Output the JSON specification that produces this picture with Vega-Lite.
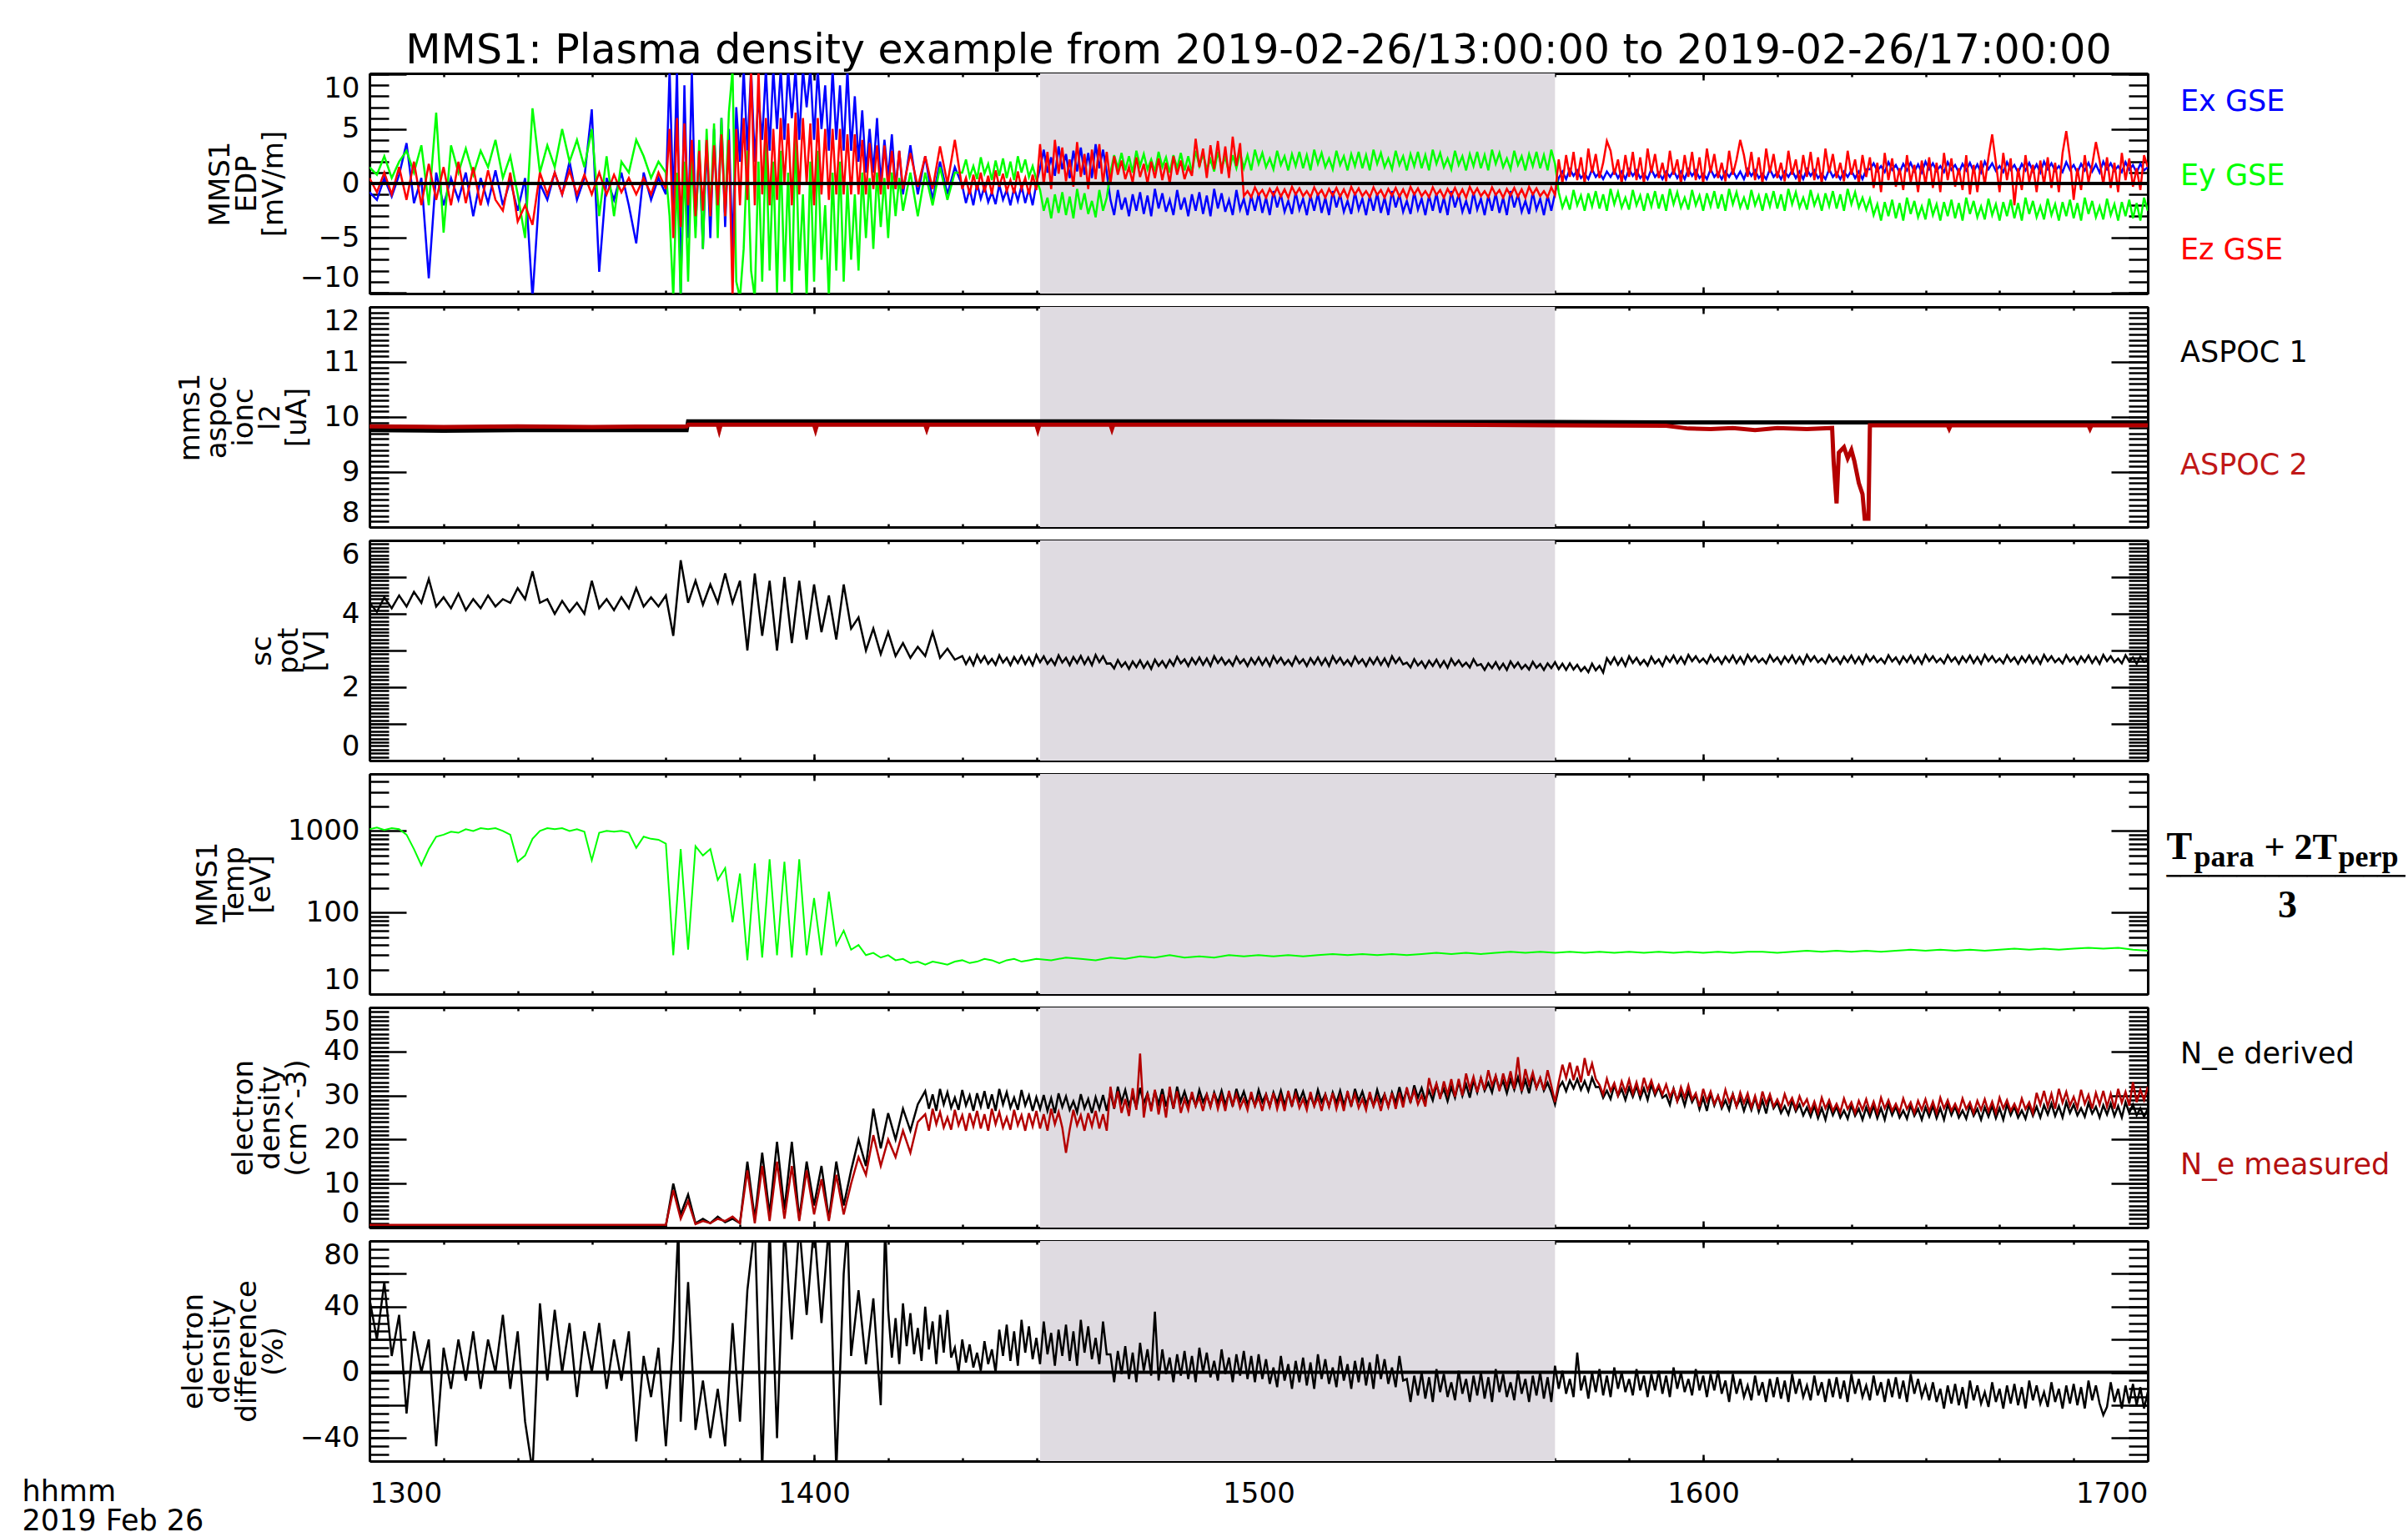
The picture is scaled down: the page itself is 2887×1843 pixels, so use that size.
{
"$schema": "https://vega.github.io/schema/vega-lite/v6.json",
"background": "white",
"padding": {"left": 26, "top": 36, "right": 0, "bottom": 6},
"title": {"text": "MMS1: Plasma density example from 2019-02-26/13:00:00 to 2019-02-26/17:00:00", "font": "DejaVu Sans", "fontSize": 49, "fontWeight": "normal", "color": "black", "anchor": "middle", "frame": "group", "baseline": "alphabetic", "offset": -38},
"spacing": 16,
"bounds": "flush",
"config": {
 "view": {"stroke": null},
 "axis": {"labelFont": "DejaVu Sans", "labelFontSize": 34, "labelColor": "black", "tickColor": "black", "tickWidth": 2.5, "domainColor": "black", "domainWidth": 3, "grid": false, "titleFont": "DejaVu Sans", "titleFontWeight": "normal", "titleColor": "black", "zindex": 1}
},
"datasets": {
 "shade": [{"t0": 90.5, "t1": 160}],
 "zero": [{"v": 0}],
 "e": [
{"t":0,"x":-0.8,"y":1.5,"z":0.5},{"t":1,"x":-1.5,"y":0.8,"z":-0.8},{"t":2,"x":0.5,"y":2.5,"z":1},{"t":3,"x":-1.2,"y":0.5,"z":-1},{"t":4,"x":0.8,"y":2,"z":1.5},{"t":5,"x":3.7,"y":3,"z":-1.5},{"t":6,"x":-1.8,"y":1,"z":2},{"t":7,"x":0.5,"y":3.5,"z":-2},{"t":8,"x":-8.7,"y":-2,"z":1.8},{"t":9,"x":1,"y":6.5,"z":-1.5},{"t":10,"x":-2,"y":-4.5,"z":1.5},{"t":11,"x":0.5,"y":3.5,"z":-2},{"t":12,"x":-1.5,"y":1,"z":2},{"t":13,"x":1,"y":3.2,"z":-1.8},{"t":14,"x":-3,"y":0.8,"z":1.5},{"t":15,"x":0.5,"y":3,"z":-2},{"t":16,"x":-1.8,"y":1.5,"z":1.2},{"t":17,"x":1.2,"y":4,"z":-1.5},{"t":18,"x":-2,"y":0.5,"z":-2.5},{"t":19,"x":0.3,"y":2.5,"z":1},{"t":20,"x":-2.5,"y":-1,"z":-3.5},{"t":21,"x":0.5,"y":-5,"z":-2},{"t":22,"x":-10.5,"y":6.9,"z":-3.8},{"t":23,"x":0,"y":1,"z":1},{"t":24,"x":-1.5,"y":3.5,"z":-1},{"t":25,"x":1,"y":1.5,"z":1},{"t":26,"x":-1,"y":5,"z":-1},{"t":27,"x":2,"y":2,"z":1.2},{"t":28,"x":-1.5,"y":4,"z":-1},{"t":29,"x":0.5,"y":1.5,"z":0.8},{"t":30,"x":6.8,"y":5,"z":-1},{"t":31,"x":-8.1,"y":-3,"z":1},{"t":32,"x":0.5,"y":2.5,"z":-1},{"t":33,"x":-1.5,"y":-3,"z":0.8},{"t":34,"x":1,"y":2,"z":-0.8},{"t":35,"x":-2,"y":1,"z":0.5},{"t":36,"x":-5.5,"y":4,"z":-1},{"t":37,"x":1,"y":2.5,"z":0.5},{"t":38,"x":-1.5,"y":0.5,"z":-1},{"t":39,"x":0.5,"y":2,"z":1},{"t":40,"x":-1,"y":1,"z":-0.5},
{"t":40.5,"x":10.5,"y":-3,"z":5},{"t":41,"x":-2,"y":-10.5,"z":-5},{"t":41.5,"x":10.5,"y":1,"z":6},{"t":42,"x":-10.5,"y":-10.5,"z":-4},{"t":42.5,"x":9,"y":2,"z":5.5},{"t":43,"x":-5,"y":-9,"z":-2},{"t":43.5,"x":10.5,"y":3,"z":4},{"t":44,"x":-4,"y":-5,"z":-3},{"t":44.5,"x":3,"y":4,"z":3},{"t":45,"x":-6,"y":-6,"z":-2.5},{"t":45.5,"x":4,"y":5,"z":4},{"t":46,"x":-5,"y":-3,"z":-3},{"t":46.5,"x":5,"y":5.5,"z":3.5},{"t":47,"x":-3,"y":-5,"z":-2},{"t":47.5,"x":6,"y":6,"z":4.5},{"t":48,"x":-4,"y":-3,"z":-3},{"t":48.5,"x":5,"y":6.5,"z":4},{"t":49,"x":-6.3,"y":10.5,"z":-10.5},{"t":49.5,"x":7,"y":-9,"z":5},{"t":50,"x":2,"y":-10.5,"z":-2},{"t":50.5,"x":10.5,"y":-6,"z":6},{"t":51,"x":3,"y":3,"z":-1.5},{"t":51.5,"x":10.5,"y":-8,"z":10.5},{"t":52,"x":2,"y":-10.5,"z":-2},{"t":52.5,"x":8,"y":2,"z":10.5},{"t":53,"x":4,"y":-9,"z":-1},{"t":53.5,"x":10.5,"y":4,"z":6},{"t":54,"x":3,"y":-8,"z":-2},{"t":54.5,"x":10.5,"y":2,"z":5},{"t":55,"x":5,"y":-10,"z":-1.5},{"t":55.5,"x":10.5,"y":3,"z":6},{"t":56,"x":4,"y":-9,"z":0},{"t":56.5,"x":10.5,"y":1,"z":5.5},{"t":57,"x":6,"y":-10.5,"z":-2},{"t":57.5,"x":10.5,"y":5,"z":6.5},{"t":58,"x":4,"y":-8,"z":-1},{"t":58.5,"x":10.5,"y":-1,"z":6},{"t":59,"x":7,"y":-10.5,"z":0},{"t":59.5,"x":10.5,"y":2,"z":5.5},{"t":60,"x":4,"y":-9,"z":-2},{"t":60.5,"x":10.5,"y":3,"z":6},{"t":61,"x":5,"y":-7,"z":-1},{"t":61.5,"x":9,"y":-2,"z":5},{"t":62,"x":3,"y":-10.5,"z":-1.5},{"t":62.5,"x":10.5,"y":1,"z":5},{"t":63,"x":4,"y":-8,"z":-1},{"t":63.5,"x":9,"y":2,"z":5},{"t":64,"x":3,"y":-9,"z":-1},{"t":64.5,"x":10.5,"y":0,"z":4.5},{"t":65,"x":3,"y":-7,"z":-1},{"t":65.5,"x":8,"y":-1,"z":4.5},{"t":66,"x":2,"y":-8,"z":-1},{"t":66.5,"x":6.7,"y":1,"z":4},{"t":67,"x":1,"y":-5,"z":-1},{"t":67.5,"x":5,"y":0.5,"z":3.7},{"t":68,"x":1,"y":-6,"z":-0.5},{"t":68.5,"x":6,"y":1,"z":3.5},{"t":69,"x":0,"y":-4,"z":-1},{"t":69.5,"x":4,"y":0.5,"z":3.5},{"t":70,"x":0.5,"y":-5,"z":-0.5},{"t":70.5,"x":4.5,"y":1,"z":3},{"t":71,"x":-0.5,"y":-3,"z":-0.5},{"t":71.5,"x":3,"y":0.5,"z":3},{"t":72,"x":-1,"y":-2.5,"z":-0.5},
{"t":73,"x":3.5,"y":1,"z":2.8},{"t":74,"x":-1,"y":-3,"z":-0.3},{"t":75,"x":2.5,"y":1,"z":2.5},{"t":76,"x":-1.5,"y":-2,"z":-0.5},{"t":77,"x":2,"y":1.5,"z":3.4},{"t":78,"x":-1,"y":-1.5,"z":0},{"t":79,"x":1.5,"y":1,"z":4},
{"t":80,"x":-0.2,"y":1,"z":-0.5},{"t":80.5,"x":-1.8,"y":2.2,"z":0.5},{"t":81,"x":-0.5,"y":0.6,"z":-1},{"t":81.5,"x":-2,"y":1.6,"z":0.8},{"t":82,"x":0,"y":0.4,"z":-0.6},{"t":82.5,"x":-1.4,"y":2.4,"z":1},{"t":83,"x":-0.3,"y":0.9,"z":-0.8},{"t":83.5,"x":-1.7,"y":1.8,"z":0.7},{"t":84,"x":-0.8,"y":0.3,"z":-1},{"t":84.5,"x":-1.9,"y":2.1,"z":1.2},{"t":85,"x":-0.1,"y":0.7,"z":-0.3},{"t":85.5,"x":-1.5,"y":2.3,"z":0.9},{"t":86,"x":-0.6,"y":0.5,"z":-0.7},{"t":86.5,"x":-2,"y":2,"z":0.3},{"t":87,"x":-0.4,"y":0.3,"z":-0.9},{"t":87.5,"x":-1.6,"y":2.5,"z":1.1},{"t":88,"x":-0.2,"y":1,"z":-0.5},{"t":88.5,"x":-1.8,"y":2.2,"z":0.5},{"t":89,"x":-0.5,"y":0.6,"z":-1},{"t":89.5,"x":-2,"y":1.6,"z":0.8},{"t":90,"x":0,"y":0.4,"z":-0.6},
{"t":90.5,"x":1.4,"y":-0.6,"z":3.6},{"t":91,"x":3.1,"y":-2.5,"z":-0.1},{"t":91.5,"x":1,"y":-1.3,"z":2.9},{"t":92,"x":2.4,"y":-3.2,"z":-0.5},{"t":92.5,"x":0.7,"y":-1,"z":4},{"t":93,"x":3.4,"y":-2.7,"z":0.9},{"t":93.5,"x":1.3,"y":-0.8,"z":3.3},{"t":94,"x":2.7,"y":-2.9,"z":0.2},{"t":94.5,"x":0.5,"y":-1.2,"z":2.2},{"t":95,"x":3,"y":-3.2,"z":-0.3},{"t":95.5,"x":1.1,"y":-0.5,"z":3.8},{"t":96,"x":3.3,"y":-2.4,"z":0.6},{"t":96.5,"x":0.8,"y":-0.9,"z":2.7},{"t":97,"x":2.8,"y":-2.8,"z":-0.5},{"t":97.5,"x":0.5,"y":-1.6,"z":3.1},{"t":98,"x":3.6,"y":-3.1,"z":0.4},{"t":98.5,"x":1.4,"y":-0.6,"z":3.6},{"t":99,"x":3.1,"y":-2.5,"z":-0.1},{"t":99.5,"x":1,"y":-1.3,"z":2.9},
{"t":100,"x":-1.5,"y":1,"z":0},{"t":100.5,"x":-2.9,"y":2.6,"z":2.5},{"t":101,"x":-0.6,"y":1.4,"z":0.8},{"t":101.5,"x":-2.4,"y":2.8,"z":2.1},{"t":102,"x":-1.3,"y":1.2,"z":0.4},{"t":102.5,"x":-3,"y":2.5,"z":1.5},{"t":103,"x":-1,"y":1,"z":0.1},{"t":103.5,"x":-2.5,"y":3,"z":2.4},{"t":104,"x":-0.8,"y":1.6,"z":0.6},{"t":104.5,"x":-2.8,"y":2.7,"z":1.8},{"t":105,"x":-1.1,"y":1.3,"z":0},{"t":105.5,"x":-3,"y":2.2,"z":2},{"t":106,"x":-0.5,"y":1.1,"z":0.5},{"t":106.5,"x":-2.3,"y":2.9,"z":2.3},{"t":107,"x":-0.9,"y":1.5,"z":0.3},{"t":107.5,"x":-2.6,"y":2.4,"z":1.9},{"t":108,"x":-1.5,"y":1,"z":0},{"t":108.5,"x":-2.9,"y":2.6,"z":2.5},{"t":109,"x":-0.6,"y":1.4,"z":0.8},{"t":109.5,"x":-2.4,"y":2.8,"z":2.1},{"t":110,"x":-1.3,"y":1.2,"z":0.4},{"t":110.5,"x":-3,"y":2.5,"z":1.5},{"t":111,"x":-1,"y":1,"z":0.7},{"t":111.5,"x":-2.5,"y":3,"z":4.1},{"t":112,"x":-0.8,"y":1.6,"z":1.5},{"t":112.5,"x":-2.8,"y":2.7,"z":3.2},{"t":113,"x":-1.1,"y":1.3,"z":0.5},{"t":113.5,"x":-3,"y":2.2,"z":3.5},{"t":114,"x":-0.5,"y":1.1,"z":1.3},{"t":114.5,"x":-2.3,"y":2.9,"z":3.9},{"t":115,"x":-0.9,"y":1.5,"z":0.9},{"t":115.5,"x":-2.6,"y":2.4,"z":3.4},{"t":116,"x":-1.5,"y":1,"z":0.5},{"t":116.5,"x":-2.9,"y":2.6,"z":4.3},{"t":117,"x":-0.6,"y":1.4,"z":1.6},{"t":117.5,"x":-2.4,"y":2.8,"z":3.7},
{"t":118,"x":-1.4,"y":1.4,"z":-1.15},{"t":118.5,"x":-2.9,"y":2.6,"z":-0.7},{"t":119,"x":-1.1,"y":1.2,"z":-1.25},{"t":119.5,"x":-2.5,"y":3.1,"z":-0.35},{"t":120,"x":-0.9,"y":1.8,"z":-1.05},{"t":120.5,"x":-2.7,"y":2.8,"z":-0.6},{"t":121,"x":-1.3,"y":1.5,"z":-1.3},{"t":121.5,"x":-2.9,"y":2.3,"z":-0.5},{"t":122,"x":-0.7,"y":1.3,"z":-1.1},{"t":122.5,"x":-2.2,"y":3,"z":-0.4},{"t":123,"x":-1,"y":1.7,"z":-1.2},{"t":123.5,"x":-2.6,"y":2.5,"z":-0.55},{"t":124,"x":-1.6,"y":1.2,"z":-1.3},{"t":124.5,"x":-2.8,"y":2.7,"z":-0.3},{"t":125,"x":-0.8,"y":1.6,"z":-1},{"t":125.5,"x":-2.4,"y":2.9,"z":-0.45},
{"t":126,"x":-1.4,"y":1.4,"z":-1.15},{"t":126.5,"x":-2.9,"y":2.6,"z":-0.7},{"t":127,"x":-1.1,"y":1.2,"z":-1.25},{"t":127.5,"x":-2.5,"y":3.1,"z":-0.35},{"t":128,"x":-0.9,"y":1.8,"z":-1.05},{"t":128.5,"x":-2.7,"y":2.8,"z":-0.6},{"t":129,"x":-1.3,"y":1.5,"z":-1.3},{"t":129.5,"x":-2.9,"y":2.3,"z":-0.5},{"t":130,"x":-0.7,"y":1.3,"z":-1.1},{"t":130.5,"x":-2.2,"y":3,"z":-0.4},{"t":131,"x":-1,"y":1.7,"z":-1.2},{"t":131.5,"x":-2.6,"y":2.5,"z":-0.55},{"t":132,"x":-1.6,"y":1.2,"z":-1.3},{"t":132.5,"x":-2.8,"y":2.7,"z":-0.3},{"t":133,"x":-0.8,"y":1.6,"z":-1},{"t":133.5,"x":-2.4,"y":2.9,"z":-0.45},
{"t":134,"x":-1.4,"y":1.4,"z":-1.15},{"t":134.5,"x":-2.9,"y":2.6,"z":-0.7},{"t":135,"x":-1.1,"y":1.2,"z":-1.25},{"t":135.5,"x":-2.5,"y":3.1,"z":-0.35},{"t":136,"x":-0.9,"y":1.8,"z":-1.05},{"t":136.5,"x":-2.7,"y":2.8,"z":-0.6},{"t":137,"x":-1.3,"y":1.5,"z":-1.3},{"t":137.5,"x":-2.9,"y":2.3,"z":-0.5},{"t":138,"x":-0.7,"y":1.3,"z":-1.1},{"t":138.5,"x":-2.2,"y":3,"z":-0.4},{"t":139,"x":-1,"y":1.7,"z":-1.2},{"t":139.5,"x":-2.6,"y":2.5,"z":-0.55},{"t":140,"x":-1.6,"y":1.2,"z":-1.3},{"t":140.5,"x":-2.8,"y":2.7,"z":-0.3},{"t":141,"x":-0.8,"y":1.6,"z":-1},{"t":141.5,"x":-2.4,"y":2.9,"z":-0.45},
{"t":142,"x":-1.4,"y":1.4,"z":-1.15},{"t":142.5,"x":-2.9,"y":2.6,"z":-0.7},{"t":143,"x":-1.1,"y":1.2,"z":-1.25},{"t":143.5,"x":-2.5,"y":3.1,"z":-0.35},{"t":144,"x":-0.9,"y":1.8,"z":-1.05},{"t":144.5,"x":-2.7,"y":2.8,"z":-0.6},{"t":145,"x":-1.3,"y":1.5,"z":-1.3},{"t":145.5,"x":-2.9,"y":2.3,"z":-0.5},{"t":146,"x":-0.7,"y":1.3,"z":-1.1},{"t":146.5,"x":-2.2,"y":3,"z":-0.4},{"t":147,"x":-1,"y":1.7,"z":-1.2},{"t":147.5,"x":-2.6,"y":2.5,"z":-0.55},{"t":148,"x":-1.6,"y":1.2,"z":-1.3},{"t":148.5,"x":-2.8,"y":2.7,"z":-0.3},{"t":149,"x":-0.8,"y":1.6,"z":-1},{"t":149.5,"x":-2.4,"y":2.9,"z":-0.45},
{"t":150,"x":-1.4,"y":1.4,"z":-1.15},{"t":150.5,"x":-2.9,"y":2.6,"z":-0.7},{"t":151,"x":-1.1,"y":1.2,"z":-1.25},{"t":151.5,"x":-2.5,"y":3.1,"z":-0.35},{"t":152,"x":-0.9,"y":1.8,"z":-1.05},{"t":152.5,"x":-2.7,"y":2.8,"z":-0.6},{"t":153,"x":-1.3,"y":1.5,"z":-1.3},{"t":153.5,"x":-2.9,"y":2.3,"z":-0.5},{"t":154,"x":-0.7,"y":1.3,"z":-1.1},{"t":154.5,"x":-2.2,"y":3,"z":-0.4},{"t":155,"x":-1,"y":1.7,"z":-1.2},{"t":155.5,"x":-2.6,"y":2.5,"z":-0.55},{"t":156,"x":-1.6,"y":1.2,"z":-1.3},{"t":156.5,"x":-2.8,"y":2.7,"z":-0.3},{"t":157,"x":-0.8,"y":1.6,"z":-1},{"t":157.5,"x":-2.4,"y":2.9,"z":-0.45},
{"t":158,"x":-1.4,"y":1.4,"z":-1.15},{"t":158.5,"x":-2.9,"y":2.6,"z":-0.7},{"t":159,"x":-1.1,"y":1.2,"z":-1.25},{"t":159.5,"x":-2.5,"y":3.1,"z":-0.35},{"t":160,"x":-0.9,"y":1.8,"z":-1.05},
{"t":160.5,"x":0.5,"y":-0.8,"z":2.2},{"t":161,"x":1.1,"y":-2.2,"z":0},{"t":161.5,"x":0.4,"y":-1.3,"z":2.6},{"t":162,"x":1.3,"y":-2.4,"z":0.6},{"t":162.5,"x":0.7,"y":-0.6,"z":2.9},{"t":163,"x":1.2,"y":-2,"z":0.3},{"t":163.5,"x":0.5,"y":-1.1,"z":2.4},{"t":164,"x":0.9,"y":-2.5,"z":0},{"t":164.5,"x":0.4,"y":-0.9,"z":3.2},{"t":165,"x":1.3,"y":-2.1,"z":1},{"t":165.5,"x":0.6,"y":-0.7,"z":2.7},{"t":166,"x":1,"y":-2.3,"z":0.5},{"t":166.5,"x":0.4,"y":-1,"z":1.9},{"t":167,"x":1.1,"y":-2.5,"z":3.9},{"t":167.5,"x":0.6,"y":-0.5,"z":3},{"t":168,"x":1.2,"y":-1.9,"z":0.8},
{"t":168.5,"x":0.5,"y":-0.8,"z":2.2},{"t":169,"x":1.1,"y":-2.2,"z":0},{"t":169.5,"x":0.4,"y":-1.3,"z":2.6},{"t":170,"x":1.3,"y":-2.4,"z":0.6},{"t":170.5,"x":0.7,"y":-0.6,"z":2.9},{"t":171,"x":1.2,"y":-2,"z":0.3},{"t":171.5,"x":0.5,"y":-1.1,"z":2.4},{"t":172,"x":0.9,"y":-2.5,"z":0},{"t":172.5,"x":0.4,"y":-0.9,"z":3.2},{"t":173,"x":1.3,"y":-2.1,"z":1},{"t":173.5,"x":0.6,"y":-0.7,"z":2.7},{"t":174,"x":1,"y":-2.3,"z":0.5},{"t":174.5,"x":0.4,"y":-1,"z":1.9},{"t":175,"x":1.1,"y":-2.5,"z":0.2},{"t":175.5,"x":0.6,"y":-0.5,"z":3},{"t":176,"x":1.2,"y":-1.9,"z":0.8},
{"t":176.5,"x":0.5,"y":-0.8,"z":2.2},{"t":177,"x":1.1,"y":-2.2,"z":0},{"t":177.5,"x":0.4,"y":-1.3,"z":2.6},{"t":178,"x":1.3,"y":-2.4,"z":0.6},{"t":178.5,"x":0.7,"y":-0.6,"z":2.9},{"t":179,"x":1.2,"y":-2,"z":0.3},{"t":179.5,"x":0.5,"y":-1.1,"z":2.4},{"t":180,"x":0.9,"y":-2.5,"z":0},{"t":180.5,"x":0.4,"y":-0.9,"z":3.2},{"t":181,"x":1.3,"y":-2.1,"z":1},{"t":181.5,"x":0.6,"y":-0.7,"z":2.7},{"t":182,"x":1,"y":-2.3,"z":0.5},{"t":182.5,"x":0.4,"y":-1,"z":1.9},{"t":183,"x":1.1,"y":-2.5,"z":0.2},{"t":183.5,"x":0.6,"y":-0.5,"z":3},{"t":184,"x":1.2,"y":-1.9,"z":0.8},
{"t":184.5,"x":0.5,"y":-0.8,"z":2.2},{"t":185,"x":1.1,"y":-2.2,"z":4},{"t":185.5,"x":0.4,"y":-1.3,"z":2.6},{"t":186,"x":1.3,"y":-2.4,"z":0.6},{"t":186.5,"x":0.7,"y":-0.6,"z":2.9},{"t":187,"x":1.2,"y":-2,"z":0.3},{"t":187.5,"x":0.5,"y":-1.1,"z":2.4},{"t":188,"x":0.9,"y":-2.5,"z":0},{"t":188.5,"x":0.4,"y":-0.9,"z":3.2},{"t":189,"x":1.3,"y":-2.1,"z":1},{"t":189.5,"x":0.6,"y":-0.7,"z":2.7},{"t":190,"x":1,"y":-2.3,"z":0.5},{"t":190.5,"x":0.4,"y":-1,"z":1.9},{"t":191,"x":1.1,"y":-2.5,"z":0.2},{"t":191.5,"x":0.6,"y":-0.5,"z":3},{"t":192,"x":1.2,"y":-1.9,"z":0.8},
{"t":192.5,"x":0.5,"y":-0.8,"z":2.2},{"t":193,"x":1.1,"y":-2.2,"z":0},{"t":193.5,"x":0.4,"y":-1.3,"z":2.6},{"t":194,"x":1.3,"y":-2.4,"z":0.6},{"t":194.5,"x":0.7,"y":-0.6,"z":2.9},{"t":195,"x":1.2,"y":-2,"z":0.3},{"t":195.5,"x":0.5,"y":-1.1,"z":2.4},{"t":196,"x":0.9,"y":-2.5,"z":0},{"t":196.5,"x":0.4,"y":-0.9,"z":3.2},{"t":197,"x":1.3,"y":-2.1,"z":1},{"t":197.5,"x":0.6,"y":-0.7,"z":2.7},{"t":198,"x":1,"y":-2.3,"z":0.5},{"t":198.5,"x":0.4,"y":-1,"z":1.9},{"t":199,"x":1.1,"y":-2.5,"z":0.2},{"t":199.5,"x":0.6,"y":-0.5,"z":3},{"t":200,"x":1.2,"y":-1.9,"z":0.8},
{"t":200.5,"x":0.5,"y":-0.8,"z":2.2},{"t":201,"x":1.1,"y":-2.2,"z":0},{"t":201.5,"x":0.4,"y":-1.3,"z":2.6},{"t":202,"x":1.3,"y":-2.4,"z":0.6},
{"t":202.5,"x":1.3,"y":-1.4,"z":2.4},{"t":203,"x":1.85,"y":-2.9,"z":-0.4},{"t":203.5,"x":1.15,"y":-1.9,"z":1.9},{"t":204,"x":1.6,"y":-3.4,"z":-0.8},{"t":204.5,"x":1.05,"y":-1.7,"z":2.8},{"t":205,"x":1.95,"y":-3,"z":0.3},{"t":205.5,"x":1.25,"y":-1.5,"z":2.3},{"t":206,"x":1.7,"y":-3.2,"z":-0.3},{"t":206.5,"x":1,"y":-1.8,"z":1.4},{"t":207,"x":1.8,"y":-3.4,"z":-0.6},{"t":207.5,"x":1.2,"y":-1.3,"z":2.6},{"t":208,"x":1.9,"y":-2.8,"z":0.1},{"t":208.5,"x":1.1,"y":-1.6,"z":1.7},{"t":209,"x":1.75,"y":-3.1,"z":-0.8},{"t":209.5,"x":1,"y":-2.1,"z":2.1},{"t":210,"x":2,"y":-3.3,"z":-0.1},
{"t":210.5,"x":1.3,"y":-1.4,"z":2.4},{"t":211,"x":1.85,"y":-2.9,"z":-0.4},{"t":211.5,"x":1.15,"y":-1.9,"z":1.9},{"t":212,"x":1.6,"y":-3.4,"z":-0.8},{"t":212.5,"x":1.05,"y":-1.7,"z":2.8},{"t":213,"x":1.95,"y":-3,"z":0.3},{"t":213.5,"x":1.25,"y":-1.5,"z":2.3},{"t":214,"x":1.7,"y":-3.2,"z":-0.3},{"t":214.5,"x":1,"y":-1.8,"z":1.4},{"t":215,"x":1.8,"y":-3.4,"z":-0.6},{"t":215.5,"x":1.2,"y":-1.3,"z":2.6},{"t":216,"x":1.9,"y":-2.8,"z":-1},{"t":216.5,"x":1.1,"y":-1.6,"z":1.7},{"t":217,"x":1.75,"y":-3.1,"z":-0.8},{"t":217.5,"x":1,"y":-2.1,"z":2.1},{"t":218,"x":2,"y":-3.3,"z":-0.1},
{"t":218.5,"x":1.3,"y":-1.4,"z":2.4},{"t":219,"x":1.85,"y":-2.9,"z":4.5},{"t":219.5,"x":1.15,"y":-1.9,"z":1.9},{"t":220,"x":1.6,"y":-3.4,"z":-0.8},{"t":220.5,"x":1.05,"y":-1.7,"z":2.8},{"t":221,"x":1.95,"y":-3,"z":0.3},{"t":221.5,"x":1.25,"y":-1.5,"z":2.3},{"t":222,"x":1.7,"y":-3.2,"z":-2},{"t":222.5,"x":1,"y":-1.8,"z":1.4},{"t":223,"x":1.8,"y":-3.4,"z":-0.6},{"t":223.5,"x":1.2,"y":-1.3,"z":2.6},{"t":224,"x":1.9,"y":-2.8,"z":0.1},{"t":224.5,"x":1.1,"y":-1.6,"z":1.7},{"t":225,"x":1.75,"y":-3.1,"z":-0.8},{"t":225.5,"x":1,"y":-2.1,"z":2.1},{"t":226,"x":2,"y":-3.3,"z":-0.1},
{"t":226.5,"x":1.3,"y":-1.4,"z":2.4},{"t":227,"x":1.85,"y":-2.9,"z":-0.4},{"t":227.5,"x":1.15,"y":-1.9,"z":1.9},{"t":228,"x":1.6,"y":-3.4,"z":-0.8},{"t":228.5,"x":1.05,"y":-1.7,"z":2.8},{"t":229,"x":1.95,"y":-3,"z":4.8},{"t":229.5,"x":1.25,"y":-1.5,"z":2.3},{"t":230,"x":1.7,"y":-3.2,"z":-1.5},{"t":230.5,"x":1,"y":-1.8,"z":1.4},{"t":231,"x":1.8,"y":-3.4,"z":-0.6},{"t":231.5,"x":1.2,"y":-1.3,"z":2.6},{"t":232,"x":1.9,"y":-2.8,"z":0.1},{"t":232.5,"x":1.1,"y":-1.6,"z":1.7},{"t":233,"x":1.75,"y":-3.1,"z":3.8},{"t":233.5,"x":1,"y":-2.1,"z":2.1},{"t":234,"x":2,"y":-3.3,"z":-0.1},
{"t":234.5,"x":1.3,"y":-1.4,"z":2.4},{"t":235,"x":1.85,"y":-2.9,"z":-0.4},{"t":235.5,"x":1.15,"y":-1.9,"z":1.9},{"t":236,"x":1.6,"y":-3.4,"z":-0.8},{"t":236.5,"x":1.05,"y":-1.7,"z":2.8},{"t":237,"x":1.95,"y":-3,"z":0.3},{"t":237.5,"x":1.25,"y":-1.5,"z":2.3},{"t":238,"x":1.7,"y":-3.2,"z":-0.3},{"t":238.5,"x":1,"y":-1.8,"z":1.4},{"t":239,"x":1.8,"y":-3.4,"z":-0.6},{"t":239.5,"x":1.2,"y":-1.3,"z":2.6},{"t":240,"x":1.5,"y":-2.5,"z":1.5}
 ],
 "a": [
{"t":0,"a":9.76,"b":9.83},{"t":10,"a":9.75,"b":9.82},{"t":20,"a":9.76,"b":9.83},{"t":30,"a":9.76,"b":9.82},{"t":42.8,"a":9.76,"b":9.83},{"t":43,"a":9.92,"b":9.86},{"t":47,"a":9.92,"b":9.86},{"t":47.2,"a":9.92,"b":9.76},{"t":47.4,"a":9.92,"b":9.86},{"t":60,"a":9.92,"b":9.86},{"t":60.2,"a":9.92,"b":9.77},{"t":60.4,"a":9.92,"b":9.86},{"t":75,"a":9.92,"b":9.86},{"t":75.2,"a":9.92,"b":9.78},{"t":75.4,"a":9.92,"b":9.86},{"t":90,"a":9.92,"b":9.86},{"t":90.2,"a":9.92,"b":9.77},{"t":90.4,"a":9.92,"b":9.86},{"t":100,"a":9.92,"b":9.86},{"t":100.2,"a":9.92,"b":9.78},{"t":100.4,"a":9.92,"b":9.86},{"t":120,"a":9.92,"b":9.86},{"t":140,"a":9.91,"b":9.86},{"t":160,"a":9.91,"b":9.85},{"t":175,"a":9.9,"b":9.84},{"t":178,"a":9.9,"b":9.79},{"t":181,"a":9.9,"b":9.78},{"t":184,"a":9.9,"b":9.8},{"t":187,"a":9.9,"b":9.76},{"t":190,"a":9.9,"b":9.8},{"t":194,"a":9.9,"b":9.78},{"t":197.4,"a":9.9,"b":9.8},{"t":197.6,"a":9.9,"b":9.2},{"t":198,"a":9.9,"b":8.43},{"t":198.3,"a":9.9,"b":9.35},{"t":199,"a":9.9,"b":9.45},{"t":199.5,"a":9.9,"b":9.25},{"t":200,"a":9.9,"b":9.4},{"t":200.4,"a":9.9,"b":9.2},{"t":201,"a":9.9,"b":8.8},{"t":201.5,"a":9.9,"b":8.6},{"t":201.8,"a":9.9,"b":8.15},{"t":202.3,"a":9.9,"b":8.15},{"t":202.5,"a":9.9,"b":9.85},{"t":213,"a":9.9,"b":9.85},{"t":213.2,"a":9.9,"b":9.79},{"t":213.4,"a":9.9,"b":9.85},{"t":232,"a":9.9,"b":9.85},{"t":232.2,"a":9.9,"b":9.79},{"t":232.4,"a":9.9,"b":9.85},{"t":240,"a":9.9,"b":9.85}
 ],
 "p": [
{"t":0,"v":4.3},{"t":1,"v":4.05},{"t":2,"v":4.45},{"t":3,"v":4.15},{"t":4,"v":4.5},{"t":5,"v":4.2},{"t":6,"v":4.6},{"t":7,"v":4.3},{"t":8,"v":4.95},{"t":9,"v":4.2},{"t":10,"v":4.45},{"t":11,"v":4.15},{"t":12,"v":4.55},{"t":13,"v":4.1},{"t":14,"v":4.4},{"t":15,"v":4.15},{"t":16,"v":4.5},{"t":17,"v":4.2},{"t":18,"v":4.4},{"t":19,"v":4.3},{"t":20,"v":4.7},{"t":21,"v":4.4},{"t":22,"v":5.16},{"t":23,"v":4.3},{"t":24,"v":4.4},{"t":25,"v":4.0},{"t":26,"v":4.35},{"t":27,"v":4.05},{"t":28,"v":4.3},{"t":29,"v":4.0},{"t":30,"v":4.9},{"t":31,"v":4.15},{"t":32,"v":4.4},{"t":33,"v":4.1},{"t":34,"v":4.45},{"t":35,"v":4.15},{"t":36,"v":4.7},{"t":37,"v":4.2},{"t":38,"v":4.45},{"t":39,"v":4.2},{"t":40,"v":4.5},{"t":41,"v":3.4},{"t":42,"v":5.46},{"t":43,"v":4.3},{"t":44,"v":4.9},{"t":45,"v":4.25},{"t":46,"v":4.8},{"t":47,"v":4.3},{"t":48,"v":5.1},{"t":49,"v":4.3},{"t":50,"v":4.9},{"t":51,"v":3.0},{"t":52,"v":5.1},{"t":53,"v":3.4},{"t":54,"v":4.9},{"t":55,"v":3.0},{"t":56,"v":5.0},{"t":57,"v":3.2},{"t":58,"v":4.9},{"t":59,"v":3.3},{"t":60,"v":4.8},{"t":61,"v":3.5},{"t":62,"v":4.5},{"t":63,"v":3.3},{"t":64,"v":4.8},{"t":65,"v":3.6},{"t":66,"v":3.9},{"t":67,"v":3.0},{"t":68,"v":3.6},{"t":69,"v":2.9},{"t":70,"v":3.5},{"t":71,"v":2.85},{"t":72,"v":3.2},{"t":73,"v":2.8},{"t":74,"v":3.1},{"t":75,"v":2.85},{"t":76,"v":3.5},{"t":77,"v":2.8},{"t":78,"v":3.05},{"t":79,"v":2.75},
{"t":80,"v":2.85},{"t":80.5,"v":2.63},{"t":81,"v":2.81},{"t":81.5,"v":2.6},{"t":82,"v":2.88},{"t":82.5,"v":2.68},{"t":83,"v":2.84},{"t":83.5,"v":2.64},{"t":84,"v":2.77},{"t":84.5,"v":2.61},{"t":85,"v":2.87},{"t":85.5,"v":2.67},{"t":86,"v":2.8},{"t":86.5,"v":2.6},{"t":87,"v":2.82},{"t":87.5,"v":2.66},
{"t":88,"v":2.85},{"t":88.5,"v":2.63},{"t":89,"v":2.81},{"t":89.5,"v":2.6},{"t":90,"v":2.88},{"t":90.5,"v":2.68},{"t":91,"v":2.84},{"t":91.5,"v":2.64},{"t":92,"v":2.77},{"t":92.5,"v":2.61},{"t":93,"v":2.87},{"t":93.5,"v":2.67},{"t":94,"v":2.8},{"t":94.5,"v":2.6},{"t":95,"v":2.82},{"t":95.5,"v":2.66},
{"t":96,"v":2.85},{"t":96.5,"v":2.63},{"t":97,"v":2.81},{"t":97.5,"v":2.6},{"t":98,"v":2.88},{"t":98.5,"v":2.68},{"t":99,"v":2.84},{"t":99.5,"v":2.64},
{"t":100,"v":2.65},{"t":100.5,"v":2.51},{"t":101,"v":2.74},{"t":101.5,"v":2.56},{"t":102,"v":2.68},{"t":102.5,"v":2.5},{"t":103,"v":2.7},{"t":103.5,"v":2.55},{"t":104,"v":2.73},{"t":104.5,"v":2.53},{"t":105,"v":2.69},{"t":105.5,"v":2.5},{"t":106,"v":2.75},{"t":106.5,"v":2.58},{"t":107,"v":2.71},{"t":107.5,"v":2.54},
{"t":108,"v":2.74},{"t":108.5,"v":2.59},{"t":109,"v":2.83},{"t":109.5,"v":2.65},{"t":110,"v":2.76},{"t":110.5,"v":2.58},{"t":111,"v":2.79},{"t":111.5,"v":2.63},
{"t":112,"v":2.81},{"t":112.5,"v":2.61},{"t":113,"v":2.78},{"t":113.5,"v":2.58},{"t":114,"v":2.84},{"t":114.5,"v":2.66},{"t":115,"v":2.8},{"t":115.5,"v":2.62},{"t":116,"v":2.74},{"t":116.5,"v":2.59},{"t":117,"v":2.83},{"t":117.5,"v":2.65},{"t":118,"v":2.76},{"t":118.5,"v":2.58},{"t":119,"v":2.79},{"t":119.5,"v":2.63},
{"t":120,"v":2.81},{"t":120.5,"v":2.61},{"t":121,"v":2.78},{"t":121.5,"v":2.58},{"t":122,"v":2.84},{"t":122.5,"v":2.66},{"t":123,"v":2.8},{"t":123.5,"v":2.62},{"t":124,"v":2.74},{"t":124.5,"v":2.59},{"t":125,"v":2.83},{"t":125.5,"v":2.65},{"t":126,"v":2.76},{"t":126.5,"v":2.58},{"t":127,"v":2.79},{"t":127.5,"v":2.63},
{"t":128,"v":2.81},{"t":128.5,"v":2.61},{"t":129,"v":2.78},{"t":129.5,"v":2.58},{"t":130,"v":2.84},{"t":130.5,"v":2.66},{"t":131,"v":2.8},{"t":131.5,"v":2.62},{"t":132,"v":2.74},{"t":132.5,"v":2.59},{"t":133,"v":2.83},{"t":133.5,"v":2.65},{"t":134,"v":2.76},{"t":134.5,"v":2.58},{"t":135,"v":2.79},{"t":135.5,"v":2.63},
{"t":136,"v":2.81},{"t":136.5,"v":2.61},{"t":137,"v":2.78},{"t":137.5,"v":2.58},{"t":138,"v":2.84},{"t":138.5,"v":2.66},{"t":139,"v":2.8},{"t":139.5,"v":2.62},
{"t":140,"v":2.67},{"t":140.5,"v":2.54},{"t":141,"v":2.76},{"t":141.5,"v":2.59},{"t":142,"v":2.7},{"t":142.5,"v":2.53},{"t":143,"v":2.72},{"t":143.5,"v":2.58},{"t":144,"v":2.75},{"t":144.5,"v":2.55},{"t":145,"v":2.71},{"t":145.5,"v":2.53},{"t":146,"v":2.77},{"t":146.5,"v":2.6},{"t":147,"v":2.73},{"t":147.5,"v":2.57},{"t":148,"v":2.67},{"t":148.5,"v":2.54},{"t":149,"v":2.76},{"t":149.5,"v":2.59},
{"t":150,"v":2.63},{"t":150.5,"v":2.47},{"t":151,"v":2.65},{"t":151.5,"v":2.52},{"t":152,"v":2.68},{"t":152.5,"v":2.49},{"t":153,"v":2.64},{"t":153.5,"v":2.47},{"t":154,"v":2.7},{"t":154.5,"v":2.54},{"t":155,"v":2.67},{"t":155.5,"v":2.5},{"t":156,"v":2.61},{"t":156.5,"v":2.48},{"t":157,"v":2.69},{"t":157.5,"v":2.53},{"t":158,"v":2.63},{"t":158.5,"v":2.47},{"t":159,"v":2.65},{"t":159.5,"v":2.52},{"t":160,"v":2.68},{"t":160.5,"v":2.49},{"t":161,"v":2.64},{"t":161.5,"v":2.47},
{"t":162,"v":2.65},{"t":162.5,"v":2.48},{"t":163,"v":2.61},{"t":163.5,"v":2.44},{"t":164,"v":2.55},{"t":164.5,"v":2.41},{"t":165,"v":2.64},{"t":165.5,"v":2.46},{"t":166,"v":2.58},{"t":166.5,"v":2.4},
{"t":167,"v":2.79},{"t":167.5,"v":2.63},{"t":168,"v":2.81},{"t":168.5,"v":2.61},{"t":169,"v":2.78},{"t":169.5,"v":2.58},{"t":170,"v":2.84},{"t":170.5,"v":2.66},{"t":171,"v":2.8},{"t":171.5,"v":2.62},{"t":172,"v":2.74},{"t":172.5,"v":2.59},{"t":173,"v":2.83},{"t":173.5,"v":2.65},{"t":174,"v":2.76},{"t":174.5,"v":2.58},
{"t":175,"v":2.83},{"t":175.5,"v":2.69},
{"t":176,"v":2.86},{"t":176.5,"v":2.66},{"t":177,"v":2.82},{"t":177.5,"v":2.64},{"t":178,"v":2.88},{"t":178.5,"v":2.71},{"t":179,"v":2.84},{"t":179.5,"v":2.68},{"t":180,"v":2.78},{"t":180.5,"v":2.65},{"t":181,"v":2.87},{"t":181.5,"v":2.7},{"t":182,"v":2.81},{"t":182.5,"v":2.64},{"t":183,"v":2.83},{"t":183.5,"v":2.69},
{"t":184,"v":2.86},{"t":184.5,"v":2.66},{"t":185,"v":2.82},{"t":185.5,"v":2.64},{"t":186,"v":2.88},{"t":186.5,"v":2.71},{"t":187,"v":2.84},{"t":187.5,"v":2.68},{"t":188,"v":2.78},{"t":188.5,"v":2.65},{"t":189,"v":2.87},{"t":189.5,"v":2.7},{"t":190,"v":2.81},{"t":190.5,"v":2.64},{"t":191,"v":2.83},{"t":191.5,"v":2.69},
{"t":192,"v":2.86},{"t":192.5,"v":2.66},{"t":193,"v":2.82},{"t":193.5,"v":2.64},{"t":194,"v":2.88},{"t":194.5,"v":2.71},{"t":195,"v":2.84},{"t":195.5,"v":2.68},{"t":196,"v":2.78},{"t":196.5,"v":2.65},{"t":197,"v":2.87},{"t":197.5,"v":2.7},{"t":198,"v":2.81},{"t":198.5,"v":2.64},{"t":199,"v":2.83},{"t":199.5,"v":2.69},
{"t":200,"v":2.86},{"t":200.5,"v":2.66},{"t":201,"v":2.82},{"t":201.5,"v":2.64},{"t":202,"v":2.88},{"t":202.5,"v":2.71},{"t":203,"v":2.84},{"t":203.5,"v":2.68},{"t":204,"v":2.78},{"t":204.5,"v":2.65},{"t":205,"v":2.87},{"t":205.5,"v":2.7},{"t":206,"v":2.81},{"t":206.5,"v":2.64},{"t":207,"v":2.83},{"t":207.5,"v":2.69},
{"t":208,"v":2.86},{"t":208.5,"v":2.66},{"t":209,"v":2.82},{"t":209.5,"v":2.64},{"t":210,"v":2.88},{"t":210.5,"v":2.71},{"t":211,"v":2.84},{"t":211.5,"v":2.68},{"t":212,"v":2.78},{"t":212.5,"v":2.65},{"t":213,"v":2.87},{"t":213.5,"v":2.7},{"t":214,"v":2.81},{"t":214.5,"v":2.64},{"t":215,"v":2.83},{"t":215.5,"v":2.69},
{"t":216,"v":2.86},{"t":216.5,"v":2.66},{"t":217,"v":2.82},{"t":217.5,"v":2.64},{"t":218,"v":2.88},{"t":218.5,"v":2.71},{"t":219,"v":2.84},{"t":219.5,"v":2.68},{"t":220,"v":2.78},{"t":220.5,"v":2.65},{"t":221,"v":2.87},{"t":221.5,"v":2.7},{"t":222,"v":2.81},{"t":222.5,"v":2.64},{"t":223,"v":2.83},{"t":223.5,"v":2.69},
{"t":224,"v":2.86},{"t":224.5,"v":2.66},{"t":225,"v":2.82},{"t":225.5,"v":2.64},{"t":226,"v":2.88},{"t":226.5,"v":2.71},{"t":227,"v":2.84},{"t":227.5,"v":2.68},{"t":228,"v":2.78},{"t":228.5,"v":2.65},{"t":229,"v":2.87},{"t":229.5,"v":2.7},{"t":230,"v":2.81},{"t":230.5,"v":2.64},{"t":231,"v":2.83},{"t":231.5,"v":2.69},
{"t":232,"v":2.86},{"t":232.5,"v":2.66},{"t":233,"v":2.82},{"t":233.5,"v":2.64},{"t":234,"v":2.88},{"t":234.5,"v":2.71},{"t":235,"v":2.84},{"t":235.5,"v":2.68},{"t":236,"v":2.78},{"t":236.5,"v":2.65},{"t":237,"v":2.87},{"t":237.5,"v":2.7},{"t":238,"v":2.81},{"t":238.5,"v":2.64},{"t":239,"v":2.83},{"t":239.5,"v":2.69},{"t":240,"v":2.75}
 ],
 "T": [
{"t":0,"v":1050},{"t":1,"v":1100},{"t":2,"v":1030},{"t":3,"v":1080},{"t":4,"v":1050},{"t":5,"v":900},{"t":6,"v":600},{"t":7,"v":380},{"t":8,"v":600},{"t":9,"v":850},{"t":10,"v":900},{"t":11,"v":980},{"t":12,"v":950},{"t":13,"v":1050},{"t":14,"v":1000},{"t":15,"v":1080},{"t":16,"v":1050},{"t":17,"v":1080},{"t":18,"v":1000},{"t":19,"v":900},{"t":20,"v":420},{"t":21,"v":500},{"t":22,"v":800},{"t":23,"v":1000},{"t":24,"v":1080},{"t":25,"v":1050},{"t":26,"v":1080},{"t":27,"v":1000},{"t":28,"v":1050},{"t":29,"v":980},{"t":30,"v":436},{"t":31,"v":950},{"t":32,"v":1000},{"t":33,"v":980},{"t":34,"v":1000},{"t":35,"v":950},{"t":36,"v":620},{"t":37,"v":850},{"t":38,"v":800},{"t":39,"v":780},{"t":40,"v":700},{"t":41,"v":30},{"t":42,"v":600},{"t":43,"v":35},{"t":44,"v":650},{"t":45,"v":500},{"t":46,"v":600},{"t":47,"v":250},{"t":48,"v":350},{"t":49,"v":76},{"t":50,"v":300},{"t":51,"v":26},{"t":52,"v":400},{"t":53,"v":28},{"t":54,"v":450},{"t":55,"v":30},{"t":56,"v":420},{"t":57,"v":28},{"t":58,"v":450},{"t":59,"v":30},{"t":60,"v":150},{"t":61,"v":30},{"t":62,"v":180},{"t":63,"v":40},{"t":64,"v":60},{"t":65,"v":35},{"t":66,"v":40},{"t":67,"v":30},{"t":68,"v":32},{"t":69,"v":28},{"t":70,"v":30},{"t":71,"v":26},{"t":72,"v":27},{"t":73,"v":24},{"t":74,"v":25},{"t":75,"v":23},{"t":76,"v":25},{"t":77,"v":24},{"t":78,"v":23},{"t":79,"v":25},{"t":80,"v":26},{"t":81,"v":24},{"t":82,"v":25},{"t":83,"v":27},{"t":84,"v":26},{"t":85,"v":24},{"t":86,"v":26},{"t":87,"v":27},{"t":88,"v":25},{"t":89,"v":26},
{"t":90,"v":27},{"t":92,"v":26},{"t":94,"v":28},{"t":96,"v":27},{"t":98,"v":26},{"t":100,"v":28},{"t":102,"v":27},{"t":104,"v":29},{"t":106,"v":28},{"t":108,"v":30},{"t":110,"v":28},{"t":112,"v":29},{"t":114,"v":28},{"t":116,"v":30},{"t":118,"v":29},{"t":120,"v":30},{"t":122,"v":29},{"t":124,"v":30},{"t":126,"v":29},{"t":128,"v":30},{"t":130,"v":31},{"t":132,"v":30},{"t":134,"v":31},{"t":136,"v":30},{"t":138,"v":31},{"t":140,"v":30},{"t":142,"v":31},{"t":144,"v":32},{"t":146,"v":31},{"t":148,"v":32},{"t":150,"v":31},{"t":152,"v":32},{"t":154,"v":33},{"t":156,"v":32},{"t":158,"v":33},{"t":160,"v":32},{"t":162,"v":33},{"t":164,"v":32},{"t":166,"v":33},{"t":168,"v":32},{"t":170,"v":33},{"t":172,"v":32},{"t":174,"v":33},{"t":176,"v":32},{"t":178,"v":33},{"t":180,"v":32},{"t":182,"v":33},{"t":184,"v":32},{"t":186,"v":33},{"t":188,"v":33},{"t":190,"v":32},{"t":192,"v":33},{"t":194,"v":34},{"t":196,"v":33},{"t":198,"v":34},{"t":200,"v":33},{"t":202,"v":34},{"t":204,"v":33},{"t":206,"v":34},{"t":208,"v":35},{"t":210,"v":34},{"t":212,"v":35},{"t":214,"v":34},{"t":216,"v":35},{"t":218,"v":34},{"t":220,"v":35},{"t":222,"v":36},{"t":224,"v":35},{"t":226,"v":36},{"t":228,"v":35},{"t":230,"v":36},{"t":232,"v":37},{"t":234,"v":36},{"t":236,"v":37},{"t":238,"v":35},{"t":240,"v":34}
 ],
 "n": [
{"t":0,"d":0.4,"m":0.6},{"t":40,"d":0.4,"m":0.6},{"t":41,"d":10,"m":8.5},{"t":42,"d":3,"m":2},{"t":43,"d":7.5,"m":6},{"t":44,"d":1,"m":0.8},{"t":45,"d":2,"m":1.5},{"t":46,"d":1,"m":1},{"t":47,"d":2.5,"m":2},{"t":48,"d":1.2,"m":1.5},{"t":49,"d":2,"m":2.5},{"t":50,"d":1,"m":1},{"t":51,"d":15,"m":13},{"t":52,"d":2,"m":1},{"t":53,"d":17,"m":14},{"t":54,"d":3,"m":1.5},{"t":55,"d":19.5,"m":15},{"t":56,"d":4,"m":2},{"t":57,"d":19.5,"m":14},{"t":58,"d":2,"m":1.5},{"t":59,"d":15,"m":13},{"t":60,"d":5,"m":3},{"t":61,"d":14,"m":11},{"t":62,"d":2,"m":1.5},{"t":63,"d":15,"m":12},{"t":64,"d":5,"m":3},{"t":65,"d":13,"m":10},{"t":66,"d":20,"m":16},{"t":67,"d":14,"m":12},{"t":68,"d":27,"m":21},{"t":69,"d":18,"m":14},{"t":70,"d":26,"m":20},{"t":71,"d":20,"m":16},{"t":72,"d":27,"m":22},{"t":73,"d":22,"m":17},{"t":74,"d":28,"m":24},
{"t":75,"d":31,"m":25.75},{"t":75.5,"d":27,"m":22},{"t":76,"d":30.25,"m":27},{"t":76.5,"d":26.5,"m":23.5},{"t":77,"d":31.5,"m":26.25},{"t":77.5,"d":28,"m":22.75},{"t":78,"d":30.75,"m":25},{"t":78.5,"d":27.25,"m":22.25},{"t":79,"d":29.5,"m":26.75},{"t":79.5,"d":26.75,"m":23.25},{"t":80,"d":31.25,"m":25.5},{"t":80.5,"d":27.75,"m":22},{"t":81,"d":30,"m":26},{"t":81.5,"d":26.5,"m":23},{"t":82,"d":30.5,"m":26.5},{"t":82.5,"d":27.5,"m":22.5},
{"t":83,"d":31,"m":25.75},{"t":83.5,"d":27,"m":22},{"t":84,"d":30.25,"m":27},{"t":84.5,"d":26.5,"m":23.5},{"t":85,"d":31.5,"m":26.25},{"t":85.5,"d":28,"m":22.75},{"t":86,"d":30.75,"m":25},{"t":86.5,"d":27.25,"m":22.25},{"t":87,"d":29.5,"m":26.75},{"t":87.5,"d":26.75,"m":23.25},{"t":88,"d":31.25,"m":25.5},{"t":88.5,"d":27.75,"m":22},{"t":89,"d":30,"m":26},{"t":89.5,"d":26.5,"m":23},
{"t":90,"d":29.6,"m":26.5},{"t":90.5,"d":26.9,"m":22.5},{"t":91,"d":30.1,"m":25.75},{"t":91.5,"d":26.5,"m":22},{"t":92,"d":29.4,"m":27},{"t":92.5,"d":26,"m":23.5},{"t":93,"d":30.5,"m":26.25},{"t":93.5,"d":27.4,"m":22.75},{"t":94,"d":29.8,"m":17},{"t":94.5,"d":26.7,"m":22.25},{"t":95,"d":28.7,"m":26.75},{"t":95.5,"d":26.2,"m":23.25},{"t":96,"d":30.3,"m":25.5},{"t":96.5,"d":27.1,"m":22},{"t":97,"d":29.2,"m":26},{"t":97.5,"d":26,"m":23},{"t":98,"d":29.6,"m":26.5},{"t":98.5,"d":26.9,"m":22.5},{"t":99,"d":30.1,"m":25.75},{"t":99.5,"d":26.5,"m":22},
{"t":100,"d":30.75,"m":32},{"t":100.5,"d":27,"m":27.1},{"t":101,"d":32,"m":30.95},{"t":101.5,"d":28.5,"m":26.05},{"t":102,"d":31.25,"m":29.2},{"t":102.5,"d":27.75,"m":25.35},{"t":103,"d":30,"m":31.65},{"t":103.5,"d":27.25,"m":26.75},{"t":104,"d":31.75,"m":39.5},{"t":104.5,"d":28.25,"m":25},{"t":105,"d":30.5,"m":30.6},{"t":105.5,"d":27,"m":26.4},{"t":106,"d":31,"m":31.3},{"t":106.5,"d":28,"m":25.7},{"t":107,"d":31.5,"m":30.25},{"t":107.5,"d":27.5,"m":25},{"t":108,"d":30.75,"m":32},{"t":108.5,"d":27,"m":27.1},{"t":109,"d":32,"m":30.95},{"t":109.5,"d":28.5,"m":26.05},
{"t":110,"d":30.9,"m":29.2},{"t":110.5,"d":28.1,"m":26.7},{"t":111,"d":29.9,"m":30.8},{"t":111.5,"d":27.7,"m":27.6},{"t":112,"d":31.3,"m":29.65},{"t":112.5,"d":28.5,"m":26.5},{"t":113,"d":30.3,"m":30.1},{"t":113.5,"d":27.5,"m":27.4},{"t":114,"d":30.7,"m":30.55},{"t":114.5,"d":28.3,"m":26.95},{"t":115,"d":31.1,"m":29.9},{"t":115.5,"d":27.9,"m":26.5},{"t":116,"d":30.5,"m":31},{"t":116.5,"d":27.5,"m":27.85},{"t":117,"d":31.5,"m":30.3},{"t":117.5,"d":28.7,"m":27.2},
{"t":118,"d":30.9,"m":29.2},{"t":118.5,"d":28.1,"m":26.7},{"t":119,"d":29.9,"m":30.8},{"t":119.5,"d":27.7,"m":27.6},{"t":120,"d":31.3,"m":29.65},{"t":120.5,"d":28.5,"m":26.5},{"t":121,"d":30.3,"m":30.1},{"t":121.5,"d":27.5,"m":27.4},{"t":122,"d":30.7,"m":30.55},{"t":122.5,"d":28.3,"m":26.95},{"t":123,"d":31.1,"m":29.9},{"t":123.5,"d":27.9,"m":26.5},{"t":124,"d":30.5,"m":31},{"t":124.5,"d":27.5,"m":27.85},{"t":125,"d":31.5,"m":30.3},{"t":125.5,"d":28.7,"m":27.2},
{"t":126,"d":30.9,"m":29.2},{"t":126.5,"d":28.1,"m":26.7},{"t":127,"d":29.9,"m":30.8},{"t":127.5,"d":27.7,"m":27.6},{"t":128,"d":31.3,"m":29.65},{"t":128.5,"d":28.5,"m":26.5},{"t":129,"d":30.3,"m":30.1},{"t":129.5,"d":27.5,"m":27.4},{"t":130,"d":30.7,"m":30.55},{"t":130.5,"d":28.3,"m":26.95},{"t":131,"d":31.1,"m":29.9},{"t":131.5,"d":27.9,"m":26.5},{"t":132,"d":30.5,"m":31},{"t":132.5,"d":27.5,"m":27.85},{"t":133,"d":31.5,"m":30.3},{"t":133.5,"d":28.7,"m":27.2},
{"t":134,"d":30.9,"m":29.2},{"t":134.5,"d":28.1,"m":26.7},{"t":135,"d":29.9,"m":30.8},{"t":135.5,"d":27.7,"m":27.6},{"t":136,"d":31.3,"m":29.65},{"t":136.5,"d":28.5,"m":26.5},{"t":137,"d":30.3,"m":30.1},{"t":137.5,"d":27.5,"m":27.4},{"t":138,"d":30.7,"m":30.55},{"t":138.5,"d":28.3,"m":26.95},{"t":139,"d":31.9,"m":30.7},{"t":139.5,"d":28.7,"m":27.3},{"t":140,"d":31.3,"m":31.8},{"t":140.5,"d":28.3,"m":28.6},{"t":141,"d":32.3,"m":31.1},{"t":141.5,"d":29.5,"m":28},{"t":142,"d":31.7,"m":30},{"t":142.5,"d":28.9,"m":27.5},
{"t":143,"d":31.1,"m":33.95},{"t":143.5,"d":28.9,"m":30.45},{"t":144,"d":32.5,"m":32.7},{"t":144.5,"d":29.7,"m":29.2},{"t":145,"d":31.5,"m":33.2},{"t":145.5,"d":28.7,"m":30.2},{"t":146,"d":31.9,"m":33.7},{"t":146.5,"d":29.5,"m":29.7},{"t":147,"d":33.1,"m":33.75},{"t":147.5,"d":29.9,"m":30},{"t":148,"d":32.5,"m":35},{"t":148.5,"d":29.5,"m":31.5},{"t":149,"d":33.5,"m":34.25},{"t":149.5,"d":30.7,"m":30.75},
{"t":150,"d":33.9,"m":34},{"t":150.5,"d":31.1,"m":31.25},{"t":151,"d":32.9,"m":35.75},{"t":151.5,"d":30.7,"m":32.25},{"t":152,"d":34.3,"m":34.5},{"t":152.5,"d":31.5,"m":31},{"t":153,"d":33.3,"m":35},{"t":153.5,"d":30.5,"m":32},{"t":154,"d":33.7,"m":35.5},{"t":154.5,"d":31.3,"m":31.5},{"t":155,"d":34.1,"m":38.7},{"t":155.5,"d":30.9,"m":31},{"t":156,"d":33.5,"m":36},{"t":156.5,"d":30.5,"m":32.5},{"t":157,"d":34.5,"m":35.25},{"t":157.5,"d":31.7,"m":31.75},{"t":158,"d":33.9,"m":34},{"t":158.5,"d":31.1,"m":31.25},{"t":159,"d":32.9,"m":35.75},{"t":159.5,"d":30.7,"m":32.25},{"t":160,"d":28,"m":28.5},
{"t":160.5,"d":31.75,"m":33},{"t":161,"d":33.1,"m":37},{"t":161.5,"d":31,"m":34},{"t":162,"d":33.4,"m":37.5},{"t":162.5,"d":31.6,"m":33.5},{"t":163,"d":33.7,"m":36.75},{"t":163.5,"d":31.3,"m":33},{"t":164,"d":33.25,"m":38.5},{"t":164.5,"d":31,"m":34.5},{"t":165,"d":34,"m":37.25},{"t":165.5,"d":31.9,"m":33.75},
{"t":166,"d":31.95,"m":32.4},{"t":166.5,"d":29.5,"m":30.2},{"t":167,"d":31.1,"m":33.8},{"t":167.5,"d":29.2,"m":31},{"t":168,"d":32.3,"m":32.8},{"t":168.5,"d":29.9,"m":30},{"t":169,"d":31.45,"m":33.2},{"t":169.5,"d":29,"m":30.8},{"t":170,"d":31.8,"m":33.6},{"t":170.5,"d":29.7,"m":30.4},{"t":171,"d":32.15,"m":33},{"t":171.5,"d":29.35,"m":30},{"t":172,"d":31.6,"m":34},{"t":172.5,"d":29,"m":31.2},{"t":173,"d":32.5,"m":33.4},{"t":173.5,"d":30.05,"m":30.6},{"t":174,"d":31.95,"m":32.4},{"t":174.5,"d":29.5,"m":30.2},
{"t":175,"d":30.1,"m":32.5},{"t":175.5,"d":27.9,"m":29.7},{"t":176,"d":31.5,"m":31.5},{"t":176.5,"d":28.7,"m":28.7},{"t":177,"d":30.5,"m":31.9},{"t":177.5,"d":27.7,"m":29.5},{"t":178,"d":30.9,"m":32.3},{"t":178.5,"d":28.5,"m":29.1},{"t":179,"d":30.1,"m":30.5},{"t":179.5,"d":26.9,"m":27.5},{"t":180,"d":29.5,"m":31.5},{"t":180.5,"d":26.5,"m":28.7},{"t":181,"d":30.5,"m":30.9},{"t":181.5,"d":27.7,"m":28.1},{"t":182,"d":29.9,"m":29.9},{"t":182.5,"d":27.1,"m":27.7},
{"t":183,"d":28.9,"m":31.3},{"t":183.5,"d":26.7,"m":28.5},{"t":184,"d":30.3,"m":30.3},{"t":184.5,"d":27.5,"m":27.5},{"t":185,"d":29.3,"m":30.7},{"t":185.5,"d":26.5,"m":28.3},{"t":186,"d":29.1,"m":30.5},{"t":186.5,"d":26.7,"m":27.3},{"t":187,"d":29.5,"m":29.9},{"t":187.5,"d":26.3,"m":26.9},{"t":188,"d":28.9,"m":30.9},{"t":188.5,"d":25.9,"m":28.1},{"t":189,"d":29.9,"m":30.3},{"t":189.5,"d":27.1,"m":27.5},
{"t":190,"d":28.45,"m":29.1},{"t":190.5,"d":26,"m":27.2},{"t":191,"d":27.6,"m":30.3},{"t":191.5,"d":25.7,"m":27.9},{"t":192,"d":28.8,"m":29.45},{"t":192.5,"d":26.4,"m":27},{"t":193,"d":27.95,"m":29.8},{"t":193.5,"d":25.5,"m":27.7},{"t":194,"d":27.3,"m":29.15},{"t":194.5,"d":25.2,"m":26.35},{"t":195,"d":27.65,"m":28.6},{"t":195.5,"d":24.85,"m":26},{"t":196,"d":27.1,"m":29.5},{"t":196.5,"d":24.5,"m":27.05},{"t":197,"d":28,"m":28.95},{"t":197.5,"d":25.55,"m":26.5},
{"t":198,"d":27.45,"m":28.1},{"t":198.5,"d":25,"m":26.2},{"t":199,"d":26.6,"m":29.3},{"t":199.5,"d":24.7,"m":26.9},{"t":200,"d":27.8,"m":28.45},{"t":200.5,"d":25.4,"m":26},{"t":201,"d":26.95,"m":28.8},{"t":201.5,"d":24.5,"m":26.7},{"t":202,"d":27.3,"m":29.15},{"t":202.5,"d":25.2,"m":26.35},{"t":203,"d":27.65,"m":28.6},{"t":203.5,"d":24.85,"m":26},{"t":204,"d":27.1,"m":29.5},{"t":204.5,"d":24.5,"m":27.05},{"t":205,"d":28,"m":28.95},{"t":205.5,"d":25.55,"m":26.5},
{"t":206,"d":27.45,"m":28.1},{"t":206.5,"d":25,"m":26.2},{"t":207,"d":26.6,"m":29.3},{"t":207.5,"d":24.7,"m":26.9},{"t":208,"d":27.8,"m":28.45},{"t":208.5,"d":25.4,"m":26},{"t":209,"d":26.95,"m":28.8},{"t":209.5,"d":24.5,"m":26.7},{"t":210,"d":27.3,"m":29.15},{"t":210.5,"d":25.2,"m":26.35},{"t":211,"d":27.65,"m":28.6},{"t":211.5,"d":24.85,"m":26},{"t":212,"d":27.1,"m":29.5},{"t":212.5,"d":24.5,"m":27.05},{"t":213,"d":28,"m":28.95},{"t":213.5,"d":25.55,"m":26.5},
{"t":214,"d":27.45,"m":28.1},{"t":214.5,"d":25,"m":26.2},{"t":215,"d":26.6,"m":29.3},{"t":215.5,"d":24.7,"m":26.9},{"t":216,"d":27.8,"m":28.45},{"t":216.5,"d":25.4,"m":26},{"t":217,"d":26.95,"m":28.8},{"t":217.5,"d":24.5,"m":26.7},{"t":218,"d":27.3,"m":29.15},{"t":218.5,"d":25.2,"m":26.35},{"t":219,"d":27.65,"m":28.6},{"t":219.5,"d":24.85,"m":26},{"t":220,"d":27.1,"m":29.5},{"t":220.5,"d":24.5,"m":27.05},{"t":221,"d":28,"m":28.95},{"t":221.5,"d":25.55,"m":26.5},
{"t":222,"d":27.45,"m":28.1},{"t":222.5,"d":25,"m":26.2},{"t":223,"d":26.6,"m":29.3},{"t":223.5,"d":24.7,"m":26.9},{"t":224,"d":27.8,"m":28.45},{"t":224.5,"d":25.4,"m":26},
{"t":225,"d":27.45,"m":30.6},{"t":225.5,"d":25,"m":27.9},{"t":226,"d":27.8,"m":31.05},{"t":226.5,"d":25.7,"m":27.45},{"t":227,"d":28.15,"m":30.4},{"t":227.5,"d":25.35,"m":27},{"t":228,"d":27.6,"m":31.5},{"t":228.5,"d":25,"m":28.35},{"t":229,"d":28.5,"m":30.8},{"t":229.5,"d":26.05,"m":27.7},{"t":230,"d":27.95,"m":29.7},{"t":230.5,"d":25.5,"m":27.2},{"t":231,"d":27.1,"m":31.3},{"t":231.5,"d":25.2,"m":28.1},{"t":232,"d":28.3,"m":30.15},{"t":232.5,"d":25.9,"m":27},{"t":233,"d":27.45,"m":30.6},{"t":233.5,"d":25,"m":27.9},{"t":234,"d":27.8,"m":31.05},{"t":234.5,"d":25.7,"m":27.45},{"t":235,"d":28.15,"m":30.4},{"t":235.5,"d":25.35,"m":27},{"t":236,"d":27.6,"m":31.5},{"t":236.5,"d":25,"m":28.35},{"t":237,"d":28.5,"m":30.8},{"t":237.5,"d":26.05,"m":27.7},{"t":238,"d":27.95,"m":33},{"t":238.5,"d":25.5,"m":28.5},{"t":239,"d":27.1,"m":31.3},{"t":239.5,"d":25.2,"m":29},{"t":240,"d":27,"m":32}
 ],
 "f": [
{"t":0,"v":45},{"t":1,"v":20},{"t":2,"v":55},{"t":3,"v":10},{"t":4,"v":35},{"t":5,"v":-25},{"t":6,"v":25},{"t":7,"v":0},{"t":8,"v":20},{"t":9,"v":-45},{"t":10,"v":15},{"t":11,"v":-10},{"t":12,"v":20},{"t":13,"v":-5},{"t":14,"v":25},{"t":15,"v":-10},{"t":16,"v":20},{"t":17,"v":0},{"t":18,"v":35},{"t":19,"v":-10},{"t":20,"v":25},{"t":21,"v":-30},{"t":22,"v":-60},{"t":23,"v":42},{"t":24,"v":-5},{"t":25,"v":38},{"t":26,"v":0},{"t":27,"v":30},{"t":28,"v":-15},{"t":29,"v":25},{"t":30,"v":0},{"t":31,"v":30},{"t":32,"v":-10},{"t":33,"v":20},{"t":34,"v":-5},{"t":35,"v":25},{"t":36,"v":-42},{"t":37,"v":10},{"t":38,"v":-15},{"t":39,"v":15},{"t":40,"v":-45},{"t":41,"v":20},{"t":41.7,"v":90},{"t":42,"v":-30},{"t":43,"v":55},{"t":44,"v":-35},{"t":45,"v":-5},{"t":46,"v":-40},{"t":47,"v":-10},{"t":48,"v":-45},{"t":49,"v":30},{"t":50,"v":-30},{"t":51,"v":50},{"t":52,"v":90},{"t":53,"v":-60},{"t":54,"v":90},{"t":55,"v":-40},{"t":56,"v":90},{"t":57,"v":20},{"t":58,"v":90},{"t":59,"v":35},{"t":60,"v":90},{"t":61,"v":30},{"t":62,"v":90},{"t":63,"v":-60},{"t":64,"v":60},{"t":64.5,"v":90},{"t":65,"v":10},{"t":66,"v":50},{"t":67,"v":5},{"t":68,"v":45},{"t":69,"v":-20},{"t":69.6,"v":90},
{"t":70,"v":38},{"t":70.5,"v":9},{"t":71,"v":33},{"t":71.5,"v":5},{"t":72,"v":42},{"t":72.5,"v":16},{"t":73,"v":36},{"t":73.5,"v":11},{"t":74,"v":27},{"t":74.5,"v":7},{"t":75,"v":40},{"t":75.5,"v":14},{"t":76,"v":31},{"t":76.5,"v":5},{"t":77,"v":35},{"t":77.5,"v":12},{"t":78,"v":38},{"t":78.5,"v":9},
{"t":79,"v":15},{"t":79.5,"v":0},{"t":80,"v":20},{"t":80.5,"v":6},{"t":81,"v":17},{"t":81.5,"v":3},{"t":82,"v":12},{"t":82.5,"v":1},{"t":83,"v":19},{"t":83.5,"v":5},{"t":84,"v":14},{"t":84.5,"v":0},
{"t":85,"v":26},{"t":85.5,"v":10},{"t":86,"v":29},{"t":86.5,"v":7},{"t":87,"v":25},{"t":87.5,"v":4},{"t":88,"v":32},{"t":88.5,"v":12},{"t":89,"v":28},{"t":89.5,"v":8},{"t":90,"v":21},{"t":90.5,"v":5},{"t":91,"v":31},{"t":91.5,"v":11},{"t":92,"v":24},{"t":92.5,"v":4},{"t":93,"v":26},{"t":93.5,"v":10},{"t":94,"v":29},{"t":94.5,"v":7},{"t":95,"v":25},{"t":95.5,"v":4},{"t":96,"v":32},{"t":96.5,"v":12},{"t":97,"v":28},{"t":97.5,"v":8},{"t":98,"v":21},{"t":98.5,"v":5},{"t":99,"v":31},{"t":99.5,"v":11},
{"t":100,"v":11},{"t":100.5,"v":-6},{"t":101,"v":13},{"t":101.5,"v":-1},{"t":102,"v":16},{"t":102.5,"v":-4},{"t":103,"v":12},{"t":103.5,"v":-6},{"t":104,"v":18},{"t":104.5,"v":1},{"t":105,"v":14},{"t":105.5,"v":-2},
{"t":106,"v":37},{"t":106.5,"v":-5},{"t":107,"v":14},{"t":107.5,"v":-1},{"t":108,"v":9},{"t":108.5,"v":-6},{"t":109,"v":11},{"t":109.5,"v":-2},{"t":110,"v":13},{"t":110.5,"v":-4},{"t":111,"v":10},{"t":111.5,"v":-6},{"t":112,"v":15},{"t":112.5,"v":0},{"t":113,"v":12},{"t":113.5,"v":-3},{"t":114,"v":7},{"t":114.5,"v":-5},{"t":115,"v":14},{"t":115.5,"v":-1},{"t":116,"v":9},{"t":116.5,"v":-6},{"t":117,"v":11},{"t":117.5,"v":-2},{"t":118,"v":13},{"t":118.5,"v":-4},{"t":119,"v":10},{"t":119.5,"v":-6},
{"t":120,"v":11},{"t":120.5,"v":-4},{"t":121,"v":8},{"t":121.5,"v":-7},{"t":122,"v":3},{"t":122.5,"v":-9},{"t":123,"v":10},{"t":123.5,"v":-5},{"t":124,"v":5},{"t":124.5,"v":-10},{"t":125,"v":7},{"t":125.5,"v":-6},{"t":126,"v":9},{"t":126.5,"v":-8},{"t":127,"v":6},{"t":127.5,"v":-10},{"t":128,"v":11},{"t":128.5,"v":-4},{"t":129,"v":8},{"t":129.5,"v":-7},{"t":130,"v":3},{"t":130.5,"v":-9},{"t":131,"v":10},{"t":131.5,"v":-5},{"t":132,"v":5},{"t":132.5,"v":-10},{"t":133,"v":7},{"t":133.5,"v":-6},{"t":134,"v":9},{"t":134.5,"v":-8},{"t":135,"v":6},{"t":135.5,"v":-10},{"t":136,"v":11},{"t":136.5,"v":-4},{"t":137,"v":8},{"t":137.5,"v":-7},{"t":138,"v":3},{"t":138.5,"v":-9},{"t":139,"v":10},{"t":139.5,"v":-5},
{"t":140,"v":-4},{"t":140.5,"v":-18},{"t":141,"v":-2},{"t":141.5,"v":-14},{"t":142,"v":0},{"t":142.5,"v":-16},{"t":143,"v":-3},{"t":143.5,"v":-18},{"t":144,"v":2},{"t":144.5,"v":-12},{"t":145,"v":-1},{"t":145.5,"v":-15},{"t":146,"v":-6},{"t":146.5,"v":-17},{"t":147,"v":1},{"t":147.5,"v":-13},{"t":148,"v":-4},{"t":148.5,"v":-18},{"t":149,"v":-2},{"t":149.5,"v":-14},{"t":150,"v":0},{"t":150.5,"v":-16},{"t":151,"v":-3},{"t":151.5,"v":-18},{"t":152,"v":2},{"t":152.5,"v":-12},{"t":153,"v":-1},{"t":153.5,"v":-15},{"t":154,"v":-6},{"t":154.5,"v":-17},{"t":155,"v":1},{"t":155.5,"v":-13},{"t":156,"v":-4},{"t":156.5,"v":-18},{"t":157,"v":-2},{"t":157.5,"v":-14},{"t":158,"v":0},{"t":158.5,"v":-16},{"t":159,"v":-3},{"t":159.5,"v":-18},
{"t":160,"v":4},{"t":160.5,"v":-10},{"t":161,"v":1},{"t":161.5,"v":-13},{"t":162,"v":-4},{"t":162.5,"v":-15},{"t":163,"v":12},{"t":163.5,"v":-11},{"t":164,"v":-2},{"t":164.5,"v":-16},{"t":165,"v":0},{"t":165.5,"v":-12},{"t":166,"v":2},{"t":166.5,"v":-14},
{"t":167,"v":-2},{"t":167.5,"v":-15},{"t":168,"v":3},{"t":168.5,"v":-10},{"t":169,"v":0},{"t":169.5,"v":-12},{"t":170,"v":-4},{"t":170.5,"v":-14},{"t":171,"v":2},{"t":171.5,"v":-11},{"t":172,"v":-2},{"t":172.5,"v":-15},{"t":173,"v":-1},{"t":173.5,"v":-11},{"t":174,"v":1},{"t":174.5,"v":-13},{"t":175,"v":-2},{"t":175.5,"v":-15},{"t":176,"v":3},{"t":176.5,"v":-10},{"t":177,"v":0},{"t":177.5,"v":-12},{"t":178,"v":-4},{"t":178.5,"v":-14},{"t":179,"v":2},{"t":179.5,"v":-11},{"t":180,"v":-2},{"t":180.5,"v":-15},{"t":181,"v":-1},{"t":181.5,"v":-11},{"t":182,"v":1},{"t":182.5,"v":-13},
{"t":183,"v":-5},{"t":183.5,"v":-18},{"t":184,"v":-1},{"t":184.5,"v":-13},{"t":185,"v":-4},{"t":185.5,"v":-15},{"t":186,"v":-8},{"t":186.5,"v":-17},{"t":187,"v":-2},{"t":187.5,"v":-14},{"t":188,"v":-6},{"t":188.5,"v":-18},{"t":189,"v":-4},{"t":189.5,"v":-15},{"t":190,"v":-3},{"t":190.5,"v":-16},{"t":191,"v":-5},{"t":191.5,"v":-18},{"t":192,"v":-1},{"t":192.5,"v":-13},{"t":193,"v":-4},{"t":193.5,"v":-15},{"t":194,"v":-8},{"t":194.5,"v":-17},{"t":195,"v":-2},{"t":195.5,"v":-14},{"t":196,"v":-6},{"t":196.5,"v":-18},{"t":197,"v":-4},{"t":197.5,"v":-15},{"t":198,"v":-3},{"t":198.5,"v":-16},{"t":199,"v":-5},{"t":199.5,"v":-18},{"t":200,"v":-1},{"t":200.5,"v":-13},{"t":201,"v":-4},{"t":201.5,"v":-15},{"t":202,"v":-8},{"t":202.5,"v":-17},{"t":203,"v":-2},{"t":203.5,"v":-14},{"t":204,"v":-6},{"t":204.5,"v":-18},{"t":205,"v":-4},{"t":205.5,"v":-15},{"t":206,"v":-3},{"t":206.5,"v":-16},{"t":207,"v":-5},{"t":207.5,"v":-18},{"t":208,"v":-1},{"t":208.5,"v":-13},{"t":209,"v":-4},{"t":209.5,"v":-15},{"t":210,"v":-8},{"t":210.5,"v":-17},
{"t":211,"v":-6},{"t":211.5,"v":-18},{"t":212,"v":-10},{"t":212.5,"v":-22},{"t":213,"v":-8},{"t":213.5,"v":-19},{"t":214,"v":-7},{"t":214.5,"v":-20},{"t":215,"v":-9},{"t":215.5,"v":-22},{"t":216,"v":-5},{"t":216.5,"v":-17},{"t":217,"v":-8},{"t":217.5,"v":-19},{"t":218,"v":-12},{"t":218.5,"v":-21},{"t":219,"v":-6},{"t":219.5,"v":-18},{"t":220,"v":-10},{"t":220.5,"v":-22},{"t":221,"v":-8},{"t":221.5,"v":-19},{"t":222,"v":-7},{"t":222.5,"v":-20},{"t":223,"v":-9},{"t":223.5,"v":-22},{"t":224,"v":-5},{"t":224.5,"v":-17},{"t":225,"v":-8},{"t":225.5,"v":-19},{"t":226,"v":-12},{"t":226.5,"v":-21},{"t":227,"v":-6},{"t":227.5,"v":-18},{"t":228,"v":-10},{"t":228.5,"v":-22},{"t":229,"v":-8},{"t":229.5,"v":-19},{"t":230,"v":-7},{"t":230.5,"v":-20},{"t":231,"v":-9},{"t":231.5,"v":-22},{"t":232,"v":-5},{"t":232.5,"v":-17},{"t":233,"v":-8},{"t":233.5,"v":-19},{"t":234,"v":-26},{"t":234.5,"v":-21},{"t":235,"v":-6},{"t":235.5,"v":-18},{"t":236,"v":-10},{"t":236.5,"v":-22},{"t":237,"v":-8},{"t":237.5,"v":-19},{"t":238,"v":-7},{"t":238.5,"v":-20},{"t":239,"v":-9},{"t":239.5,"v":-22},{"t":240,"v":-12}
 ]
},
"vconcat": [
{
 "width": 2132, "height": 264,
 "layer": [
  {"data": {"name": "shade"}, "mark": {"type": "rect", "color": "#dfdbe1", "y2Offset": 16}, "encoding": {"x": {"field": "t0", "type": "quantitative", "scale": {"domain": [0, 240], "nice": false, "zero": false}, "axis": null}, "x2": {"field": "t1"}}},
  {"data": {"name": "e"}, "mark": {"type": "line", "strokeWidth": 2.5, "clip": true}, "encoding": {"x": {"field": "t", "type": "quantitative", "scale": {"domain": [0, 240], "nice": false, "zero": false}, "axis": null}, "y": {"field": "x", "type": "quantitative", "scale": {"domain": [-10.1, 10.1], "nice": false, "zero": false}, "axis": null}, "color": {"datum": "Ex GSE", "scale": {"domain": ["Ex GSE", "Ey GSE", "Ez GSE"], "range": ["#0000ff", "#00ff00", "#ff0000"]}, "legend": {"orient": "none", "legendX": 2136, "legendY": 16, "title": null, "labelFont": "DejaVu Sans", "labelFontSize": 35, "symbolSize": 0, "symbolStrokeWidth": 0, "symbolOpacity": 0, "labelOffset": 0, "rowPadding": 53, "labelLimit": 600, "encode": {"labels": {"update": {"fill": {"signal": "datum.label === 'Ex GSE' ? '#0000ff' : datum.label === 'Ey GSE' ? '#00ff00' : '#ff0000'"}}}}}}}},
  {"data": {"name": "e"}, "mark": {"type": "line", "strokeWidth": 2.5, "clip": true}, "encoding": {"x": {"field": "t", "type": "quantitative", "scale": {"domain": [0, 240], "nice": false, "zero": false}, "axis": null}, "y": {"field": "y", "type": "quantitative", "scale": {"domain": [-10.1, 10.1], "nice": false, "zero": false}, "axis": null}, "color": {"datum": "Ey GSE"}}},
  {"data": {"name": "e"}, "mark": {"type": "line", "strokeWidth": 2.5, "clip": true}, "encoding": {"x": {"field": "t", "type": "quantitative", "scale": {"domain": [0, 240], "nice": false, "zero": false}, "axis": null}, "y": {"field": "z", "type": "quantitative", "scale": {"domain": [-10.1, 10.1], "nice": false, "zero": false}, "axis": null}, "color": {"datum": "Ez GSE"}}},
  {"data": {"name": "zero"}, "mark": {"type": "rule", "color": "black", "strokeWidth": 4}, "encoding": {"y": {"field": "v", "type": "quantitative", "scale": {"domain": [-10.1, 10.1], "nice": false, "zero": false}, "axis": null}}},
  {"data": {"name": "shade"}, "mark": {"type": "point", "opacity": 0}, "encoding": {"x": {"field": "t0", "type": "quantitative", "scale": {"domain": [0, 240], "nice": false, "zero": false}, "axis": {"orient": "bottom", "values": [0, 60, 120, 180, 240], "ticks": false, "labels": false, "domain": true, "title": null}}, "y": {"datum": 0, "type": "quantitative", "scale": {"domain": [-10.1, 10.1], "nice": false, "zero": false}, "axis": {"orient": "left", "values": [-10, -5, 0, 5, 10], "ticks": false, "labels": true, "format": "d", "labelPadding": 12, "labelFlush": 4, "domain": true, "title": ["MMS1", "EDP", "[mV/m]"], "titlePadding": 14, "titleFontSize": 34, "titleLineHeight": 32}}}},
  {"data": {"name": "shade"}, "mark": {"type": "point", "opacity": 0}, "encoding": {"x": {"field": "t0", "type": "quantitative", "scale": {"domain": [0, 240], "nice": false, "zero": false}, "axis": {"orient": "bottom", "values": [0, 60, 120, 180, 240], "ticks": true, "tickSize": -8, "labels": false, "domain": false, "title": null}}, "y": {"datum": 0, "type": "quantitative", "scale": {"domain": [-10.1, 10.1], "nice": false, "zero": false}, "axis": {"orient": "left", "values": [-10, -5, 0, 5, 10], "ticks": true, "tickSize": -44, "labels": false, "domain": false, "title": null}}}},
  {"data": {"name": "shade"}, "mark": {"type": "point", "opacity": 0}, "encoding": {"x": {"field": "t0", "type": "quantitative", "scale": {"domain": [0, 240], "nice": false, "zero": false}, "axis": {"orient": "bottom", "values": [0,10,20,30,40,50,60,70,80,90,100,110,120,130,140,150,160,170,180,190,200,210,220,230,240], "ticks": true, "tickSize": -4, "labels": false, "domain": false, "title": null}}, "y": {"datum": 0, "type": "quantitative", "scale": {"domain": [-10.1, 10.1], "nice": false, "zero": false}, "axis": {"orient": "left", "values": [-10,-9,-8,-7,-6,-5,-4,-3,-2,-1,0,1,2,3,4,5,6,7,8,9,10], "ticks": true, "tickSize": -23, "labels": false, "domain": false, "title": null}}}},
  {"data": {"name": "shade"}, "mark": {"type": "point", "opacity": 0}, "encoding": {"x": {"field": "t0", "type": "quantitative", "scale": {"domain": [0, 240], "nice": false, "zero": false}, "axis": {"orient": "top", "values": [0, 60, 120, 180, 240], "ticks": true, "tickSize": -8, "labels": false, "domain": true, "title": null}}, "y": {"datum": 0, "type": "quantitative", "scale": {"domain": [-10.1, 10.1], "nice": false, "zero": false}, "axis": {"orient": "right", "values": [-10, -5, 0, 5, 10], "ticks": true, "tickSize": -44, "labels": false, "domain": true, "title": null}}}},
  {"data": {"name": "shade"}, "mark": {"type": "point", "opacity": 0}, "encoding": {"x": {"field": "t0", "type": "quantitative", "scale": {"domain": [0, 240], "nice": false, "zero": false}, "axis": {"orient": "top", "values": [0,10,20,30,40,50,60,70,80,90,100,110,120,130,140,150,160,170,180,190,200,210,220,230,240], "ticks": true, "tickSize": -4, "labels": false, "domain": false, "title": null}}, "y": {"datum": 0, "type": "quantitative", "scale": {"domain": [-10.1, 10.1], "nice": false, "zero": false}, "axis": {"orient": "right", "values": [-10,-9,-8,-7,-6,-5,-4,-3,-2,-1,0,1,2,3,4,5,6,7,8,9,10], "ticks": true, "tickSize": -23, "labels": false, "domain": false, "title": null}}}}
 ],
 "resolve": {"axis": {"x": "independent", "y": "independent"}}
},
{
 "width": 2132, "height": 264,
 "layer": [
  {"data": {"name": "shade"}, "mark": {"type": "rect", "color": "#dfdbe1", "y2Offset": 16}, "encoding": {"x": {"field": "t0", "type": "quantitative", "scale": {"domain": [0, 240], "nice": false, "zero": false}, "axis": null}, "x2": {"field": "t1"}}},
  {"data": {"name": "a"}, "mark": {"type": "line", "strokeWidth": 5, "clip": true}, "encoding": {"x": {"field": "t", "type": "quantitative", "scale": {"domain": [0, 240], "nice": false, "zero": false}, "axis": null}, "y": {"field": "a", "type": "quantitative", "scale": {"domain": [8, 12], "nice": false, "zero": false}, "axis": null}, "color": {"datum": "ASPOC 1", "scale": {"domain": ["ASPOC 1", "ASPOC 2"], "range": ["#000000", "#b40000"]}, "legend": {"orient": "none", "legendX": 2136, "legendY": 37, "title": null, "labelFont": "DejaVu Sans", "labelFontSize": 35, "symbolSize": 0, "symbolStrokeWidth": 0, "symbolOpacity": 0, "labelOffset": 0, "rowPadding": 99, "labelLimit": 600, "encode": {"labels": {"update": {"fill": {"signal": "datum.label === 'ASPOC 1' ? '#000000' : '#c01818'"}}}}}}}},
  {"data": {"name": "a"}, "mark": {"type": "line", "strokeWidth": 5, "clip": true}, "encoding": {"x": {"field": "t", "type": "quantitative", "scale": {"domain": [0, 240], "nice": false, "zero": false}, "axis": null}, "y": {"field": "b", "type": "quantitative", "scale": {"domain": [8, 12], "nice": false, "zero": false}, "axis": null}, "color": {"datum": "ASPOC 2"}}},
  {"data": {"name": "shade"}, "mark": {"type": "point", "opacity": 0}, "encoding": {"x": {"field": "t0", "type": "quantitative", "scale": {"domain": [0, 240], "nice": false, "zero": false}, "axis": {"orient": "bottom", "values": [0, 60, 120, 180, 240], "ticks": false, "labels": false, "domain": true, "title": null}}, "y": {"datum": 10, "type": "quantitative", "scale": {"domain": [8, 12], "nice": false, "zero": false}, "axis": {"orient": "left", "values": [8, 9, 10, 11, 12], "ticks": false, "labels": true, "format": "d", "labelPadding": 12, "labelFlush": 4, "domain": true, "title": ["mms1", "aspoc", "ionc", "l2", "[uA]"], "titlePadding": 14, "titleFontSize": 34, "titleLineHeight": 32}}}},
  {"data": {"name": "shade"}, "mark": {"type": "point", "opacity": 0}, "encoding": {"x": {"field": "t0", "type": "quantitative", "scale": {"domain": [0, 240], "nice": false, "zero": false}, "axis": {"orient": "bottom", "values": [0, 60, 120, 180, 240], "ticks": true, "tickSize": -8, "labels": false, "domain": false, "title": null}}, "y": {"datum": 10, "type": "quantitative", "scale": {"domain": [8, 12], "nice": false, "zero": false}, "axis": {"orient": "left", "values": [8, 9, 10, 11, 12], "ticks": true, "tickSize": -44, "labels": false, "domain": false, "title": null}}}},
  {"data": {"name": "shade"}, "mark": {"type": "point", "opacity": 0}, "encoding": {"x": {"field": "t0", "type": "quantitative", "scale": {"domain": [0, 240], "nice": false, "zero": false}, "axis": {"orient": "bottom", "values": [0,10,20,30,40,50,60,70,80,90,100,110,120,130,140,150,160,170,180,190,200,210,220,230,240], "ticks": true, "tickSize": -4, "labels": false, "domain": false, "title": null}}, "y": {"datum": 10, "type": "quantitative", "scale": {"domain": [8, 12], "nice": false, "zero": false}, "axis": {"orient": "left", "values": [8,8.1,8.2,8.3,8.4,8.5,8.6,8.7,8.8,8.9,9,9.1,9.2,9.3,9.4,9.5,9.6,9.7,9.8,9.9,10,10.1,10.2,10.3,10.4,10.5,10.6,10.7,10.8,10.9,11,11.1,11.2,11.3,11.4,11.5,11.6,11.7,11.8,11.9,12], "ticks": true, "tickSize": -23, "labels": false, "domain": false, "title": null}}}},
  {"data": {"name": "shade"}, "mark": {"type": "point", "opacity": 0}, "encoding": {"x": {"field": "t0", "type": "quantitative", "scale": {"domain": [0, 240], "nice": false, "zero": false}, "axis": {"orient": "top", "values": [0, 60, 120, 180, 240], "ticks": true, "tickSize": -8, "labels": false, "domain": true, "title": null}}, "y": {"datum": 10, "type": "quantitative", "scale": {"domain": [8, 12], "nice": false, "zero": false}, "axis": {"orient": "right", "values": [8, 9, 10, 11, 12], "ticks": true, "tickSize": -44, "labels": false, "domain": true, "title": null}}}},
  {"data": {"name": "shade"}, "mark": {"type": "point", "opacity": 0}, "encoding": {"x": {"field": "t0", "type": "quantitative", "scale": {"domain": [0, 240], "nice": false, "zero": false}, "axis": {"orient": "top", "values": [0,10,20,30,40,50,60,70,80,90,100,110,120,130,140,150,160,170,180,190,200,210,220,230,240], "ticks": true, "tickSize": -4, "labels": false, "domain": false, "title": null}}, "y": {"datum": 10, "type": "quantitative", "scale": {"domain": [8, 12], "nice": false, "zero": false}, "axis": {"orient": "right", "values": [8,8.1,8.2,8.3,8.4,8.5,8.6,8.7,8.8,8.9,9,9.1,9.2,9.3,9.4,9.5,9.6,9.7,9.8,9.9,10,10.1,10.2,10.3,10.4,10.5,10.6,10.7,10.8,10.9,11,11.1,11.2,11.3,11.4,11.5,11.6,11.7,11.8,11.9,12], "ticks": true, "tickSize": -23, "labels": false, "domain": false, "title": null}}}}
 ],
 "resolve": {"axis": {"x": "independent", "y": "independent"}}
},
{
 "width": 2132, "height": 264,
 "layer": [
  {"data": {"name": "shade"}, "mark": {"type": "rect", "color": "#dfdbe1", "y2Offset": 16}, "encoding": {"x": {"field": "t0", "type": "quantitative", "scale": {"domain": [0, 240], "nice": false, "zero": false}, "axis": null}, "x2": {"field": "t1"}}},
  {"data": {"name": "p"}, "mark": {"type": "line", "strokeWidth": 2.5, "color": "black", "clip": true}, "encoding": {"x": {"field": "t", "type": "quantitative", "scale": {"domain": [0, 240], "nice": false, "zero": false}, "axis": null}, "y": {"field": "v", "type": "quantitative", "scale": {"domain": [0, 6], "nice": false, "zero": false}, "axis": null}}},
  {"data": {"name": "shade"}, "mark": {"type": "point", "opacity": 0}, "encoding": {"x": {"field": "t0", "type": "quantitative", "scale": {"domain": [0, 240], "nice": false, "zero": false}, "axis": {"orient": "bottom", "values": [0, 60, 120, 180, 240], "ticks": false, "labels": false, "domain": true, "title": null}}, "y": {"datum": 3, "type": "quantitative", "scale": {"domain": [0, 6], "nice": false, "zero": false}, "axis": {"orient": "left", "values": [0, 1, 2, 3, 4, 5, 6], "ticks": false, "labels": true, "format": "d", "labelPadding": 12, "labelFlush": 4, "domain": true, "title": ["sc", "pot", "[V]"], "titlePadding": 14, "titleFontSize": 34, "titleLineHeight": 32}}}},
  {"data": {"name": "shade"}, "mark": {"type": "point", "opacity": 0}, "encoding": {"x": {"field": "t0", "type": "quantitative", "scale": {"domain": [0, 240], "nice": false, "zero": false}, "axis": {"orient": "bottom", "values": [0, 60, 120, 180, 240], "ticks": true, "tickSize": -8, "labels": false, "domain": false, "title": null}}, "y": {"datum": 3, "type": "quantitative", "scale": {"domain": [0, 6], "nice": false, "zero": false}, "axis": {"orient": "left", "values": [0, 1, 2, 3, 4, 5, 6], "ticks": true, "tickSize": -44, "labels": false, "domain": false, "title": null}}}},
  {"data": {"name": "shade"}, "mark": {"type": "point", "opacity": 0}, "encoding": {"x": {"field": "t0", "type": "quantitative", "scale": {"domain": [0, 240], "nice": false, "zero": false}, "axis": {"orient": "bottom", "values": [0,10,20,30,40,50,60,70,80,90,100,110,120,130,140,150,160,170,180,190,200,210,220,230,240], "ticks": true, "tickSize": -4, "labels": false, "domain": false, "title": null}}, "y": {"datum": 3, "type": "quantitative", "scale": {"domain": [0, 6], "nice": false, "zero": false}, "axis": {"orient": "left", "values": [0,0.1,0.2,0.3,0.4,0.5,0.6,0.7,0.8,0.9,1,1.1,1.2,1.3,1.4,1.5,1.6,1.7,1.8,1.9,2,2.1,2.2,2.3,2.4,2.5,2.6,2.7,2.8,2.9,3,3.1,3.2,3.3,3.4,3.5,3.6,3.7,3.8,3.9,4,4.1,4.2,4.3,4.4,4.5,4.6,4.7,4.8,4.9,5,5.1,5.2,5.3,5.4,5.5,5.6,5.7,5.8,5.9,6], "ticks": true, "tickSize": -23, "labels": false, "domain": false, "title": null}}}},
  {"data": {"name": "shade"}, "mark": {"type": "point", "opacity": 0}, "encoding": {"x": {"field": "t0", "type": "quantitative", "scale": {"domain": [0, 240], "nice": false, "zero": false}, "axis": {"orient": "top", "values": [0, 60, 120, 180, 240], "ticks": true, "tickSize": -8, "labels": false, "domain": true, "title": null}}, "y": {"datum": 3, "type": "quantitative", "scale": {"domain": [0, 6], "nice": false, "zero": false}, "axis": {"orient": "right", "values": [0, 1, 2, 3, 4, 5, 6], "ticks": true, "tickSize": -44, "labels": false, "domain": true, "title": null}}}},
  {"data": {"name": "shade"}, "mark": {"type": "point", "opacity": 0}, "encoding": {"x": {"field": "t0", "type": "quantitative", "scale": {"domain": [0, 240], "nice": false, "zero": false}, "axis": {"orient": "top", "values": [0,10,20,30,40,50,60,70,80,90,100,110,120,130,140,150,160,170,180,190,200,210,220,230,240], "ticks": true, "tickSize": -4, "labels": false, "domain": false, "title": null}}, "y": {"datum": 3, "type": "quantitative", "scale": {"domain": [0, 6], "nice": false, "zero": false}, "axis": {"orient": "right", "values": [0,0.1,0.2,0.3,0.4,0.5,0.6,0.7,0.8,0.9,1,1.1,1.2,1.3,1.4,1.5,1.6,1.7,1.8,1.9,2,2.1,2.2,2.3,2.4,2.5,2.6,2.7,2.8,2.9,3,3.1,3.2,3.3,3.4,3.5,3.6,3.7,3.8,3.9,4,4.1,4.2,4.3,4.4,4.5,4.6,4.7,4.8,4.9,5,5.1,5.2,5.3,5.4,5.5,5.6,5.7,5.8,5.9,6], "ticks": true, "tickSize": -23, "labels": false, "domain": false, "title": null}}}}
 ],
 "resolve": {"axis": {"x": "independent", "y": "independent"}}
},
{
 "width": 2132, "height": 264,
 "layer": [
  {"data": {"name": "shade"}, "mark": {"type": "rect", "color": "#dfdbe1", "y2Offset": 16}, "encoding": {"x": {"field": "t0", "type": "quantitative", "scale": {"domain": [0, 240], "nice": false, "zero": false}, "axis": null}, "x2": {"field": "t1"}}},
  {"data": {"name": "T"}, "mark": {"type": "line", "strokeWidth": 2, "color": "#00ff00", "clip": true}, "encoding": {"x": {"field": "t", "type": "quantitative", "scale": {"domain": [0, 240], "nice": false, "zero": false}, "axis": null}, "y": {"field": "v", "type": "quantitative", "scale": {"type": "log", "domain": [10, 5000], "nice": false}, "axis": null}}},
  {"data": {"name": "shade"}, "mark": {"type": "point", "opacity": 0}, "encoding": {"x": {"field": "t0", "type": "quantitative", "scale": {"domain": [0, 240], "nice": false, "zero": false}, "axis": {"orient": "bottom", "values": [0, 60, 120, 180, 240], "ticks": false, "labels": false, "domain": true, "title": null}}, "y": {"datum": 100, "type": "quantitative", "scale": {"type": "log", "domain": [10, 5000], "nice": false}, "axis": {"orient": "left", "values": [10, 100, 1000], "ticks": false, "labels": true, "format": "d", "labelPadding": 12, "labelFlush": 4, "domain": true, "title": ["MMS1", "Temp", "[eV]"], "titlePadding": 14, "titleFontSize": 34, "titleLineHeight": 32}}}},
  {"data": {"name": "shade"}, "mark": {"type": "point", "opacity": 0}, "encoding": {"x": {"field": "t0", "type": "quantitative", "scale": {"domain": [0, 240], "nice": false, "zero": false}, "axis": {"orient": "bottom", "values": [0, 60, 120, 180, 240], "ticks": true, "tickSize": -8, "labels": false, "domain": false, "title": "─────────────────", "titleFont": "DejaVu Sans Mono", "titleFontSize": 28, "titleX": 2154, "titleY": -141, "titleAngle": 0, "titleAlign": "left", "titleBaseline": "middle"}}, "y": {"datum": 100, "type": "quantitative", "scale": {"type": "log", "domain": [10, 5000], "nice": false}, "axis": {"orient": "left", "values": [10, 100, 1000], "ticks": true, "tickSize": -44, "labels": false, "domain": false, "title": null}}}},
  {"data": {"name": "shade"}, "mark": {"type": "point", "opacity": 0}, "encoding": {"x": {"field": "t0", "type": "quantitative", "scale": {"domain": [0, 240], "nice": false, "zero": false}, "axis": {"orient": "bottom", "values": [0,10,20,30,40,50,60,70,80,90,100,110,120,130,140,150,160,170,180,190,200,210,220,230,240], "ticks": true, "tickSize": -4, "labels": false, "domain": false, "title": "3", "titleFont": "Liberation Serif", "titleFontWeight": "bold", "titleFontSize": 46, "titleX": 2299, "titleY": -93, "titleAngle": 0, "titleAlign": "center", "titleBaseline": "alphabetic"}}, "y": {"datum": 100, "type": "quantitative", "scale": {"type": "log", "domain": [10, 5000], "nice": false}, "axis": {"orient": "left", "values": [20,30,40,50,60,70,80,90,200,300,400,500,600,700,800,900,2000,3000,4000,5000], "ticks": true, "tickSize": -23, "labels": false, "domain": false, "title": null}}}},
  {"data": {"name": "shade"}, "mark": {"type": "point", "opacity": 0}, "encoding": {"x": {"field": "t0", "type": "quantitative", "scale": {"domain": [0, 240], "nice": false, "zero": false}, "axis": {"orient": "top", "values": [0, 60, 120, 180, 240], "ticks": true, "tickSize": -8, "labels": false, "domain": true, "title": "+ 2T", "titleFont": "Liberation Serif", "titleFontWeight": "bold", "titleFontSize": 44, "titleX": 2271, "titleY": 101, "titleAngle": 0, "titleAlign": "left", "titleBaseline": "alphabetic"}}, "y": {"datum": 100, "type": "quantitative", "scale": {"type": "log", "domain": [10, 5000], "nice": false}, "axis": {"orient": "right", "values": [10, 100, 1000], "ticks": true, "tickSize": -44, "labels": false, "domain": true, "title": "T", "titleFont": "Liberation Serif", "titleFontWeight": "bold", "titleFontSize": 46, "titleX": 22, "titleY": 101, "titleAngle": 0, "titleAlign": "left", "titleBaseline": "alphabetic"}}}},
  {"data": {"name": "shade"}, "mark": {"type": "point", "opacity": 0}, "encoding": {"x": {"field": "t0", "type": "quantitative", "scale": {"domain": [0, 240], "nice": false, "zero": false}, "axis": {"orient": "top", "values": [0,10,20,30,40,50,60,70,80,90,100,110,120,130,140,150,160,170,180,190,200,210,220,230,240], "ticks": true, "tickSize": -4, "labels": false, "domain": false, "title": "perp", "titleFont": "Liberation Serif", "titleFontWeight": "bold", "titleFontSize": 36, "titleX": 2360, "titleY": 110, "titleAngle": 0, "titleAlign": "left", "titleBaseline": "alphabetic"}}, "y": {"datum": 100, "type": "quantitative", "scale": {"type": "log", "domain": [10, 5000], "nice": false}, "axis": {"orient": "right", "values": [20,30,40,50,60,70,80,90,200,300,400,500,600,700,800,900,2000,3000,4000,5000], "ticks": true, "tickSize": -23, "labels": false, "domain": false, "title": "para", "titleFont": "Liberation Serif", "titleFontWeight": "bold", "titleFontSize": 36, "titleX": 55, "titleY": 110, "titleAngle": 0, "titleAlign": "left", "titleBaseline": "alphabetic"}}}}
 ],
 "resolve": {"axis": {"x": "independent", "y": "independent"}}
},
{
 "width": 2132, "height": 264,
 "layer": [
  {"data": {"name": "shade"}, "mark": {"type": "rect", "color": "#dfdbe1", "y2Offset": 16}, "encoding": {"x": {"field": "t0", "type": "quantitative", "scale": {"domain": [0, 240], "nice": false, "zero": false}, "axis": null}, "x2": {"field": "t1"}}},
  {"data": {"name": "n"}, "mark": {"type": "line", "strokeWidth": 2.5, "clip": true}, "encoding": {"x": {"field": "t", "type": "quantitative", "scale": {"domain": [0, 240], "nice": false, "zero": false}, "axis": null}, "y": {"field": "d", "type": "quantitative", "scale": {"domain": [0, 50], "nice": false, "zero": false}, "axis": null}, "color": {"datum": "N_e derived", "scale": {"domain": ["N_e derived", "N_e measured"], "range": ["#000000", "#b40000"]}, "legend": {"orient": "none", "legendX": 2136, "legendY": 38, "title": null, "labelFont": "DejaVu Sans", "labelFontSize": 35, "symbolSize": 0, "symbolStrokeWidth": 0, "symbolOpacity": 0, "labelOffset": 0, "rowPadding": 97, "labelLimit": 600, "encode": {"labels": {"update": {"fill": {"signal": "datum.label === 'N_e derived' ? '#000000' : '#b41010'"}}}}}}}},
  {"data": {"name": "n"}, "mark": {"type": "line", "strokeWidth": 2.5, "clip": true}, "encoding": {"x": {"field": "t", "type": "quantitative", "scale": {"domain": [0, 240], "nice": false, "zero": false}, "axis": null}, "y": {"field": "m", "type": "quantitative", "scale": {"domain": [0, 50], "nice": false, "zero": false}, "axis": null}, "color": {"datum": "N_e measured"}}},
  {"data": {"name": "shade"}, "mark": {"type": "point", "opacity": 0}, "encoding": {"x": {"field": "t0", "type": "quantitative", "scale": {"domain": [0, 240], "nice": false, "zero": false}, "axis": {"orient": "bottom", "values": [0, 60, 120, 180, 240], "ticks": false, "labels": false, "domain": true, "title": null}}, "y": {"datum": 25, "type": "quantitative", "scale": {"domain": [0, 50], "nice": false, "zero": false}, "axis": {"orient": "left", "values": [0, 10, 20, 30, 40, 50], "ticks": false, "labels": true, "format": "d", "labelPadding": 12, "labelFlush": 4, "domain": true, "title": ["electron", "density", "(cm^-3)"], "titlePadding": 14, "titleFontSize": 34, "titleLineHeight": 32}}}},
  {"data": {"name": "shade"}, "mark": {"type": "point", "opacity": 0}, "encoding": {"x": {"field": "t0", "type": "quantitative", "scale": {"domain": [0, 240], "nice": false, "zero": false}, "axis": {"orient": "bottom", "values": [0, 60, 120, 180, 240], "ticks": true, "tickSize": -8, "labels": false, "domain": false, "title": null}}, "y": {"datum": 25, "type": "quantitative", "scale": {"domain": [0, 50], "nice": false, "zero": false}, "axis": {"orient": "left", "values": [0, 10, 20, 30, 40, 50], "ticks": true, "tickSize": -44, "labels": false, "domain": false, "title": null}}}},
  {"data": {"name": "shade"}, "mark": {"type": "point", "opacity": 0}, "encoding": {"x": {"field": "t0", "type": "quantitative", "scale": {"domain": [0, 240], "nice": false, "zero": false}, "axis": {"orient": "bottom", "values": [0,10,20,30,40,50,60,70,80,90,100,110,120,130,140,150,160,170,180,190,200,210,220,230,240], "ticks": true, "tickSize": -4, "labels": false, "domain": false, "title": null}}, "y": {"datum": 25, "type": "quantitative", "scale": {"domain": [0, 50], "nice": false, "zero": false}, "axis": {"orient": "left", "values": [0,1,2,3,4,5,6,7,8,9,10,11,12,13,14,15,16,17,18,19,20,21,22,23,24,25,26,27,28,29,30,31,32,33,34,35,36,37,38,39,40,41,42,43,44,45,46,47,48,49,50], "ticks": true, "tickSize": -23, "labels": false, "domain": false, "title": null}}}},
  {"data": {"name": "shade"}, "mark": {"type": "point", "opacity": 0}, "encoding": {"x": {"field": "t0", "type": "quantitative", "scale": {"domain": [0, 240], "nice": false, "zero": false}, "axis": {"orient": "top", "values": [0, 60, 120, 180, 240], "ticks": true, "tickSize": -8, "labels": false, "domain": true, "title": null}}, "y": {"datum": 25, "type": "quantitative", "scale": {"domain": [0, 50], "nice": false, "zero": false}, "axis": {"orient": "right", "values": [0, 10, 20, 30, 40, 50], "ticks": true, "tickSize": -44, "labels": false, "domain": true, "title": null}}}},
  {"data": {"name": "shade"}, "mark": {"type": "point", "opacity": 0}, "encoding": {"x": {"field": "t0", "type": "quantitative", "scale": {"domain": [0, 240], "nice": false, "zero": false}, "axis": {"orient": "top", "values": [0,10,20,30,40,50,60,70,80,90,100,110,120,130,140,150,160,170,180,190,200,210,220,230,240], "ticks": true, "tickSize": -4, "labels": false, "domain": false, "title": null}}, "y": {"datum": 25, "type": "quantitative", "scale": {"domain": [0, 50], "nice": false, "zero": false}, "axis": {"orient": "right", "values": [0,1,2,3,4,5,6,7,8,9,10,11,12,13,14,15,16,17,18,19,20,21,22,23,24,25,26,27,28,29,30,31,32,33,34,35,36,37,38,39,40,41,42,43,44,45,46,47,48,49,50], "ticks": true, "tickSize": -23, "labels": false, "domain": false, "title": null}}}}
 ],
 "resolve": {"axis": {"x": "independent", "y": "independent"}}
},
{
 "width": 2132, "height": 264,
 "layer": [
  {"data": {"name": "shade"}, "mark": {"type": "rect", "color": "#dfdbe1"}, "encoding": {"x": {"field": "t0", "type": "quantitative", "scale": {"domain": [0, 240], "nice": false, "zero": false}, "axis": null}, "x2": {"field": "t1"}}},
  {"data": {"name": "f"}, "mark": {"type": "line", "strokeWidth": 2.5, "color": "black", "clip": true}, "encoding": {"x": {"field": "t", "type": "quantitative", "scale": {"domain": [0, 240], "nice": false, "zero": false}, "axis": null}, "y": {"field": "v", "type": "quantitative", "scale": {"domain": [-54, 80], "nice": false, "zero": false}, "axis": null}}},
  {"data": {"name": "zero"}, "mark": {"type": "rule", "color": "black", "strokeWidth": 4}, "encoding": {"y": {"field": "v", "type": "quantitative", "scale": {"domain": [-54, 80], "nice": false, "zero": false}, "axis": null}}},
  {"data": {"name": "shade"}, "mark": {"type": "point", "opacity": 0}, "encoding": {"x": {"field": "t0", "type": "quantitative", "scale": {"domain": [0, 240], "nice": false, "zero": false}, "axis": {"orient": "bottom", "values": [0, 60, 120, 180, 240], "ticks": false, "labels": true, "labelExpr": "toString(1300 + datum.value * 100 / 60)", "labelPadding": 22, "domain": true, "title": ["hhmm", "2019 Feb 26"], "titleFontSize": 35, "titleLineHeight": 35, "titleX": -417, "titleY": 19, "titleAngle": 0, "titleAlign": "left", "titleBaseline": "top"}}, "y": {"datum": 0, "type": "quantitative", "scale": {"domain": [-54, 80], "nice": false, "zero": false}, "axis": {"orient": "left", "values": [-40, -20, 0, 20, 40, 60, 80], "ticks": false, "labels": true, "format": "d", "labelPadding": 12, "labelFlush": 4, "domain": true, "title": ["electron", "density", "difference", "(%)"], "titlePadding": 14, "titleFontSize": 34, "titleLineHeight": 32}}}},
  {"data": {"name": "shade"}, "mark": {"type": "point", "opacity": 0}, "encoding": {"x": {"field": "t0", "type": "quantitative", "scale": {"domain": [0, 240], "nice": false, "zero": false}, "axis": {"orient": "bottom", "values": [0, 60, 120, 180, 240], "ticks": true, "tickSize": -8, "labels": false, "domain": false, "title": null}}, "y": {"datum": 0, "type": "quantitative", "scale": {"domain": [-54, 80], "nice": false, "zero": false}, "axis": {"orient": "left", "values": [-40, -20, 0, 20, 40, 60, 80], "ticks": true, "tickSize": -44, "labels": false, "domain": false, "title": null}}}},
  {"data": {"name": "shade"}, "mark": {"type": "point", "opacity": 0}, "encoding": {"x": {"field": "t0", "type": "quantitative", "scale": {"domain": [0, 240], "nice": false, "zero": false}, "axis": {"orient": "bottom", "values": [0,10,20,30,40,50,60,70,80,90,100,110,120,130,140,150,160,170,180,190,200,210,220,230,240], "ticks": true, "tickSize": -4, "labels": false, "domain": false, "title": null}}, "y": {"datum": 0, "type": "quantitative", "scale": {"domain": [-54, 80], "nice": false, "zero": false}, "axis": {"orient": "left", "values": [-50,-45,-40,-35,-30,-25,-20,-15,-10,-5,0,5,10,15,20,25,30,35,40,45,50,55,60,65,70,75,80], "ticks": true, "tickSize": -23, "labels": false, "domain": false, "title": null}}}},
  {"data": {"name": "shade"}, "mark": {"type": "point", "opacity": 0}, "encoding": {"x": {"field": "t0", "type": "quantitative", "scale": {"domain": [0, 240], "nice": false, "zero": false}, "axis": {"orient": "top", "values": [0, 60, 120, 180, 240], "ticks": true, "tickSize": -8, "labels": false, "domain": true, "title": null}}, "y": {"datum": 0, "type": "quantitative", "scale": {"domain": [-54, 80], "nice": false, "zero": false}, "axis": {"orient": "right", "values": [-40, -20, 0, 20, 40, 60, 80], "ticks": true, "tickSize": -44, "labels": false, "domain": true, "title": null}}}},
  {"data": {"name": "shade"}, "mark": {"type": "point", "opacity": 0}, "encoding": {"x": {"field": "t0", "type": "quantitative", "scale": {"domain": [0, 240], "nice": false, "zero": false}, "axis": {"orient": "top", "values": [0,10,20,30,40,50,60,70,80,90,100,110,120,130,140,150,160,170,180,190,200,210,220,230,240], "ticks": true, "tickSize": -4, "labels": false, "domain": false, "title": null}}, "y": {"datum": 0, "type": "quantitative", "scale": {"domain": [-54, 80], "nice": false, "zero": false}, "axis": {"orient": "right", "values": [-50,-45,-40,-35,-30,-25,-20,-15,-10,-5,0,5,10,15,20,25,30,35,40,45,50,55,60,65,70,75,80], "ticks": true, "tickSize": -23, "labels": false, "domain": false, "title": null}}}}
 ],
 "resolve": {"axis": {"x": "independent", "y": "independent"}}
}
],
"resolve": {"scale": {"color": "independent"}, "legend": {"color": "independent"}}
}
